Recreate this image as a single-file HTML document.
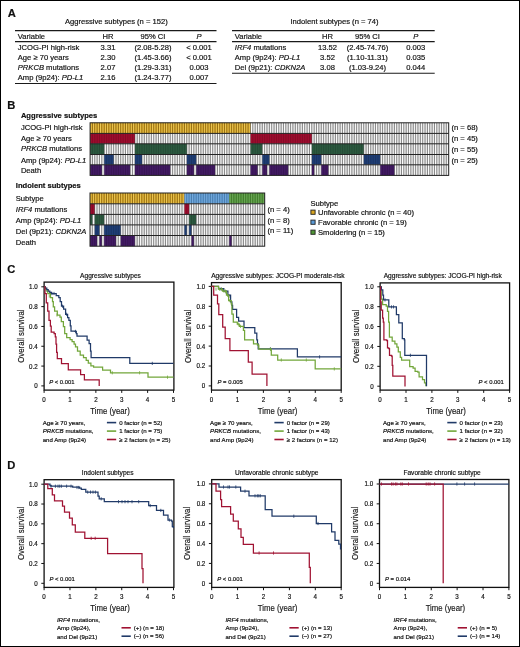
<!DOCTYPE html>
<html><head><meta charset="utf-8"><title>Figure</title>
<style>
html,body{margin:0;padding:0;background:#fff;}
.fig{will-change:transform;position:relative;width:520px;height:647px;overflow:hidden;background:#fff;}
svg text{font-family:"Liberation Sans", sans-serif;stroke:#111;stroke-width:0.18px;}
</style></head>
<body><div class="fig">
<svg width="520" height="647" viewBox="0 0 520 647" fill="#111" font-family='"Liberation Sans", sans-serif'>
<rect x="0.5" y="0.5" width="519" height="646" fill="#fff" stroke="#000" stroke-width="1"/>
<text x="7.8" y="17.2" font-size="11.2" font-weight="bold">A</text>
<text x="116.3" y="24.4" font-size="7.6" text-anchor="middle">Aggressive subtypes (n = 152)</text>
<line x1="15" y1="30.6" x2="216.5" y2="30.6" stroke="#1a1a1a" stroke-width="1.1"/>
<line x1="15" y1="41.6" x2="216.5" y2="41.6" stroke="#1a1a1a" stroke-width="1.1"/>
<line x1="15" y1="83.5" x2="216.5" y2="83.5" stroke="#1a1a1a" stroke-width="1.1"/>
<text x="17.8" y="39.2" font-size="7.6">Variable</text>
<text x="108" y="39.2" font-size="7.6" text-anchor="middle">HR</text>
<text x="153" y="39.2" font-size="7.6" text-anchor="middle">95% CI</text>
<text x="199" y="39.2" font-size="7.6" text-anchor="middle" font-style="italic">P</text>
<text x="17.8" y="50.3" font-size="7.6">JCOG-PI high-risk</text>
<text x="108" y="50.3" font-size="7.6" text-anchor="middle">3.31</text>
<text x="153" y="50.3" font-size="7.6" text-anchor="middle">(2.08-5.28)</text>
<text x="199" y="50.3" font-size="7.6" text-anchor="middle">&lt; 0.001</text>
<text x="17.8" y="60.1" font-size="7.6">Age ≥ 70 years</text>
<text x="108" y="60.1" font-size="7.6" text-anchor="middle">2.30</text>
<text x="153" y="60.1" font-size="7.6" text-anchor="middle">(1.45-3.66)</text>
<text x="199" y="60.1" font-size="7.6" text-anchor="middle">&lt; 0.001</text>
<text x="17.8" y="69.9" font-size="7.6"><tspan font-style="italic">PRKCB</tspan> mutations</text>
<text x="108" y="69.9" font-size="7.6" text-anchor="middle">2.07</text>
<text x="153" y="69.9" font-size="7.6" text-anchor="middle">(1.29-3.31)</text>
<text x="199" y="69.9" font-size="7.6" text-anchor="middle">0.003</text>
<text x="17.8" y="79.8" font-size="7.6">Amp (9p24): <tspan font-style="italic">PD-L1</tspan></text>
<text x="108" y="79.8" font-size="7.6" text-anchor="middle">2.16</text>
<text x="153" y="79.8" font-size="7.6" text-anchor="middle">(1.24-3.77)</text>
<text x="199" y="79.8" font-size="7.6" text-anchor="middle">0.007</text>
<text x="334.5" y="24.4" font-size="7.6" text-anchor="middle">Indolent subtypes (n = 74)</text>
<line x1="232" y1="30.6" x2="434.7" y2="30.6" stroke="#1a1a1a" stroke-width="1.1"/>
<line x1="232" y1="41.6" x2="434.7" y2="41.6" stroke="#1a1a1a" stroke-width="1.1"/>
<line x1="232" y1="73.2" x2="434.7" y2="73.2" stroke="#1a1a1a" stroke-width="1.1"/>
<text x="234.8" y="39.2" font-size="7.6">Variable</text>
<text x="327.5" y="39.2" font-size="7.6" text-anchor="middle">HR</text>
<text x="367.5" y="39.2" font-size="7.6" text-anchor="middle">95% CI</text>
<text x="415.7" y="39.2" font-size="7.6" text-anchor="middle" font-style="italic">P</text>
<text x="234.8" y="50.3" font-size="7.6"><tspan font-style="italic">IRF4</tspan> mutations</text>
<text x="327.5" y="50.3" font-size="7.6" text-anchor="middle">13.52</text>
<text x="367.5" y="50.3" font-size="7.6" text-anchor="middle">(2.45-74.76)</text>
<text x="415.7" y="50.3" font-size="7.6" text-anchor="middle">0.003</text>
<text x="234.8" y="60.1" font-size="7.6">Amp (9p24): <tspan font-style="italic">PD-L1</tspan></text>
<text x="327.5" y="60.1" font-size="7.6" text-anchor="middle">3.52</text>
<text x="367.5" y="60.1" font-size="7.6" text-anchor="middle">(1.10-11.31)</text>
<text x="415.7" y="60.1" font-size="7.6" text-anchor="middle">0.035</text>
<text x="234.8" y="69.9" font-size="7.6">Del (9p21): <tspan font-style="italic">CDKN2A</tspan></text>
<text x="327.5" y="69.9" font-size="7.6" text-anchor="middle">3.08</text>
<text x="367.5" y="69.9" font-size="7.6" text-anchor="middle">(1.03-9.24)</text>
<text x="415.7" y="69.9" font-size="7.6" text-anchor="middle">0.044</text>
<text x="7.2" y="108.7" font-size="11.2" font-weight="bold">B</text>
<text x="20.9" y="117.6" font-size="7.6" font-weight="bold">Aggressive subtypes</text>
<text x="15.8" y="188.3" font-size="7.6" font-weight="bold">Indolent subtypes</text>
<rect x="90.10" y="122.80" width="358.60" height="10.60" fill="#d2d2d2"/>
<rect x="90.10" y="122.80" width="160.43" height="10.60" fill="#d8a51f"/>
<rect x="90.10" y="133.40" width="358.60" height="10.40" fill="#d2d2d2"/>
<rect x="90.10" y="133.40" width="44.83" height="10.40" fill="#9e0c2e"/>
<rect x="250.53" y="133.40" width="61.34" height="10.40" fill="#9e0c2e"/>
<rect x="90.10" y="143.80" width="358.60" height="10.70" fill="#d2d2d2"/>
<rect x="90.10" y="143.80" width="14.16" height="10.70" fill="#2c5a40"/>
<rect x="134.93" y="143.80" width="51.90" height="10.70" fill="#2c5a40"/>
<rect x="250.53" y="143.80" width="11.80" height="10.70" fill="#2c5a40"/>
<rect x="311.87" y="143.80" width="51.90" height="10.70" fill="#2c5a40"/>
<rect x="90.10" y="154.50" width="358.60" height="10.30" fill="#d2d2d2"/>
<rect x="104.26" y="154.50" width="9.44" height="10.30" fill="#1f3e76"/>
<rect x="134.93" y="154.50" width="7.08" height="10.30" fill="#1f3e76"/>
<rect x="186.83" y="154.50" width="9.44" height="10.30" fill="#1f3e76"/>
<rect x="262.32" y="154.50" width="7.08" height="10.30" fill="#1f3e76"/>
<rect x="311.87" y="154.50" width="9.44" height="10.30" fill="#1f3e76"/>
<rect x="363.77" y="154.50" width="16.51" height="10.30" fill="#1f3e76"/>
<rect x="90.10" y="164.80" width="358.60" height="10.60" fill="#d2d2d2"/>
<rect x="90.10" y="164.80" width="11.80" height="10.60" fill="#421a64"/>
<rect x="104.26" y="164.80" width="25.95" height="10.60" fill="#421a64"/>
<rect x="134.93" y="164.80" width="35.39" height="10.60" fill="#421a64"/>
<rect x="186.83" y="164.80" width="7.08" height="10.60" fill="#421a64"/>
<rect x="196.26" y="164.80" width="18.87" height="10.60" fill="#421a64"/>
<rect x="250.53" y="164.80" width="7.08" height="10.60" fill="#421a64"/>
<rect x="262.32" y="164.80" width="4.72" height="10.60" fill="#421a64"/>
<rect x="269.40" y="164.80" width="18.87" height="10.60" fill="#421a64"/>
<rect x="311.87" y="164.80" width="2.36" height="10.60" fill="#421a64"/>
<rect x="321.30" y="164.80" width="7.08" height="10.60" fill="#421a64"/>
<rect x="380.28" y="164.80" width="14.16" height="10.60" fill="#421a64"/>
<path d="M251.48 122.8v10.6M253.84 122.8v10.6M256.19 122.8v10.6M258.55 122.8v10.6M260.91 122.8v10.6M263.27 122.8v10.6M265.63 122.8v10.6M267.99 122.8v10.6M270.35 122.8v10.6M272.71 122.8v10.6M275.07 122.8v10.6M277.43 122.8v10.6M279.79 122.8v10.6M282.15 122.8v10.6M284.51 122.8v10.6M286.86 122.8v10.6M289.22 122.8v10.6M291.58 122.8v10.6M293.94 122.8v10.6M296.30 122.8v10.6M298.66 122.8v10.6M301.02 122.8v10.6M303.38 122.8v10.6M305.74 122.8v10.6M308.10 122.8v10.6M310.46 122.8v10.6M312.82 122.8v10.6M315.18 122.8v10.6M317.53 122.8v10.6M319.89 122.8v10.6M322.25 122.8v10.6M324.61 122.8v10.6M326.97 122.8v10.6M329.33 122.8v10.6M331.69 122.8v10.6M334.05 122.8v10.6M336.41 122.8v10.6M338.77 122.8v10.6M341.13 122.8v10.6M343.49 122.8v10.6M345.84 122.8v10.6M348.20 122.8v10.6M350.56 122.8v10.6M352.92 122.8v10.6M355.28 122.8v10.6M357.64 122.8v10.6M360.00 122.8v10.6M362.36 122.8v10.6M364.72 122.8v10.6M367.08 122.8v10.6M369.44 122.8v10.6M371.80 122.8v10.6M374.16 122.8v10.6M376.51 122.8v10.6M378.87 122.8v10.6M381.23 122.8v10.6M383.59 122.8v10.6M385.95 122.8v10.6M388.31 122.8v10.6M390.67 122.8v10.6M393.03 122.8v10.6M395.39 122.8v10.6M397.75 122.8v10.6M400.11 122.8v10.6M402.47 122.8v10.6M404.82 122.8v10.6M407.18 122.8v10.6M409.54 122.8v10.6M411.90 122.8v10.6M414.26 122.8v10.6M416.62 122.8v10.6M418.98 122.8v10.6M421.34 122.8v10.6M423.70 122.8v10.6M426.06 122.8v10.6M428.42 122.8v10.6M430.78 122.8v10.6M433.14 122.8v10.6M435.49 122.8v10.6M437.85 122.8v10.6M440.21 122.8v10.6M442.57 122.8v10.6M444.93 122.8v10.6M447.29 122.8v10.6M135.88 133.4v10.4M138.23 133.4v10.4M140.59 133.4v10.4M142.95 133.4v10.4M145.31 133.4v10.4M147.67 133.4v10.4M150.03 133.4v10.4M152.39 133.4v10.4M154.75 133.4v10.4M157.11 133.4v10.4M159.47 133.4v10.4M161.83 133.4v10.4M164.19 133.4v10.4M166.54 133.4v10.4M168.90 133.4v10.4M171.26 133.4v10.4M173.62 133.4v10.4M175.98 133.4v10.4M178.34 133.4v10.4M180.70 133.4v10.4M183.06 133.4v10.4M185.42 133.4v10.4M187.78 133.4v10.4M190.14 133.4v10.4M192.50 133.4v10.4M194.86 133.4v10.4M197.21 133.4v10.4M199.57 133.4v10.4M201.93 133.4v10.4M204.29 133.4v10.4M206.65 133.4v10.4M209.01 133.4v10.4M211.37 133.4v10.4M213.73 133.4v10.4M216.09 133.4v10.4M218.45 133.4v10.4M220.81 133.4v10.4M223.17 133.4v10.4M225.53 133.4v10.4M227.88 133.4v10.4M230.24 133.4v10.4M232.60 133.4v10.4M234.96 133.4v10.4M237.32 133.4v10.4M239.68 133.4v10.4M242.04 133.4v10.4M244.40 133.4v10.4M246.76 133.4v10.4M249.12 133.4v10.4M312.82 133.4v10.4M315.18 133.4v10.4M317.53 133.4v10.4M319.89 133.4v10.4M322.25 133.4v10.4M324.61 133.4v10.4M326.97 133.4v10.4M329.33 133.4v10.4M331.69 133.4v10.4M334.05 133.4v10.4M336.41 133.4v10.4M338.77 133.4v10.4M341.13 133.4v10.4M343.49 133.4v10.4M345.84 133.4v10.4M348.20 133.4v10.4M350.56 133.4v10.4M352.92 133.4v10.4M355.28 133.4v10.4M357.64 133.4v10.4M360.00 133.4v10.4M362.36 133.4v10.4M364.72 133.4v10.4M367.08 133.4v10.4M369.44 133.4v10.4M371.80 133.4v10.4M374.16 133.4v10.4M376.51 133.4v10.4M378.87 133.4v10.4M381.23 133.4v10.4M383.59 133.4v10.4M385.95 133.4v10.4M388.31 133.4v10.4M390.67 133.4v10.4M393.03 133.4v10.4M395.39 133.4v10.4M397.75 133.4v10.4M400.11 133.4v10.4M402.47 133.4v10.4M404.82 133.4v10.4M407.18 133.4v10.4M409.54 133.4v10.4M411.90 133.4v10.4M414.26 133.4v10.4M416.62 133.4v10.4M418.98 133.4v10.4M421.34 133.4v10.4M423.70 133.4v10.4M426.06 133.4v10.4M428.42 133.4v10.4M430.78 133.4v10.4M433.14 133.4v10.4M435.49 133.4v10.4M437.85 133.4v10.4M440.21 133.4v10.4M442.57 133.4v10.4M444.93 133.4v10.4M447.29 133.4v10.4M105.21 143.8v10.7M107.56 143.8v10.7M109.92 143.8v10.7M112.28 143.8v10.7M114.64 143.8v10.7M117.00 143.8v10.7M119.36 143.8v10.7M121.72 143.8v10.7M124.08 143.8v10.7M126.44 143.8v10.7M128.80 143.8v10.7M131.16 143.8v10.7M133.52 143.8v10.7M187.78 143.8v10.7M190.14 143.8v10.7M192.50 143.8v10.7M194.86 143.8v10.7M197.21 143.8v10.7M199.57 143.8v10.7M201.93 143.8v10.7M204.29 143.8v10.7M206.65 143.8v10.7M209.01 143.8v10.7M211.37 143.8v10.7M213.73 143.8v10.7M216.09 143.8v10.7M218.45 143.8v10.7M220.81 143.8v10.7M223.17 143.8v10.7M225.53 143.8v10.7M227.88 143.8v10.7M230.24 143.8v10.7M232.60 143.8v10.7M234.96 143.8v10.7M237.32 143.8v10.7M239.68 143.8v10.7M242.04 143.8v10.7M244.40 143.8v10.7M246.76 143.8v10.7M249.12 143.8v10.7M263.27 143.8v10.7M265.63 143.8v10.7M267.99 143.8v10.7M270.35 143.8v10.7M272.71 143.8v10.7M275.07 143.8v10.7M277.43 143.8v10.7M279.79 143.8v10.7M282.15 143.8v10.7M284.51 143.8v10.7M286.86 143.8v10.7M289.22 143.8v10.7M291.58 143.8v10.7M293.94 143.8v10.7M296.30 143.8v10.7M298.66 143.8v10.7M301.02 143.8v10.7M303.38 143.8v10.7M305.74 143.8v10.7M308.10 143.8v10.7M310.46 143.8v10.7M364.72 143.8v10.7M367.08 143.8v10.7M369.44 143.8v10.7M371.80 143.8v10.7M374.16 143.8v10.7M376.51 143.8v10.7M378.87 143.8v10.7M381.23 143.8v10.7M383.59 143.8v10.7M385.95 143.8v10.7M388.31 143.8v10.7M390.67 143.8v10.7M393.03 143.8v10.7M395.39 143.8v10.7M397.75 143.8v10.7M400.11 143.8v10.7M402.47 143.8v10.7M404.82 143.8v10.7M407.18 143.8v10.7M409.54 143.8v10.7M411.90 143.8v10.7M414.26 143.8v10.7M416.62 143.8v10.7M418.98 143.8v10.7M421.34 143.8v10.7M423.70 143.8v10.7M426.06 143.8v10.7M428.42 143.8v10.7M430.78 143.8v10.7M433.14 143.8v10.7M435.49 143.8v10.7M437.85 143.8v10.7M440.21 143.8v10.7M442.57 143.8v10.7M444.93 143.8v10.7M447.29 143.8v10.7M91.05 154.5v10.3M93.41 154.5v10.3M95.77 154.5v10.3M98.13 154.5v10.3M100.49 154.5v10.3M102.85 154.5v10.3M114.64 154.5v10.3M117.00 154.5v10.3M119.36 154.5v10.3M121.72 154.5v10.3M124.08 154.5v10.3M126.44 154.5v10.3M128.80 154.5v10.3M131.16 154.5v10.3M133.52 154.5v10.3M142.95 154.5v10.3M145.31 154.5v10.3M147.67 154.5v10.3M150.03 154.5v10.3M152.39 154.5v10.3M154.75 154.5v10.3M157.11 154.5v10.3M159.47 154.5v10.3M161.83 154.5v10.3M164.19 154.5v10.3M166.54 154.5v10.3M168.90 154.5v10.3M171.26 154.5v10.3M173.62 154.5v10.3M175.98 154.5v10.3M178.34 154.5v10.3M180.70 154.5v10.3M183.06 154.5v10.3M185.42 154.5v10.3M197.21 154.5v10.3M199.57 154.5v10.3M201.93 154.5v10.3M204.29 154.5v10.3M206.65 154.5v10.3M209.01 154.5v10.3M211.37 154.5v10.3M213.73 154.5v10.3M216.09 154.5v10.3M218.45 154.5v10.3M220.81 154.5v10.3M223.17 154.5v10.3M225.53 154.5v10.3M227.88 154.5v10.3M230.24 154.5v10.3M232.60 154.5v10.3M234.96 154.5v10.3M237.32 154.5v10.3M239.68 154.5v10.3M242.04 154.5v10.3M244.40 154.5v10.3M246.76 154.5v10.3M249.12 154.5v10.3M251.48 154.5v10.3M253.84 154.5v10.3M256.19 154.5v10.3M258.55 154.5v10.3M260.91 154.5v10.3M270.35 154.5v10.3M272.71 154.5v10.3M275.07 154.5v10.3M277.43 154.5v10.3M279.79 154.5v10.3M282.15 154.5v10.3M284.51 154.5v10.3M286.86 154.5v10.3M289.22 154.5v10.3M291.58 154.5v10.3M293.94 154.5v10.3M296.30 154.5v10.3M298.66 154.5v10.3M301.02 154.5v10.3M303.38 154.5v10.3M305.74 154.5v10.3M308.10 154.5v10.3M310.46 154.5v10.3M322.25 154.5v10.3M324.61 154.5v10.3M326.97 154.5v10.3M329.33 154.5v10.3M331.69 154.5v10.3M334.05 154.5v10.3M336.41 154.5v10.3M338.77 154.5v10.3M341.13 154.5v10.3M343.49 154.5v10.3M345.84 154.5v10.3M348.20 154.5v10.3M350.56 154.5v10.3M352.92 154.5v10.3M355.28 154.5v10.3M357.64 154.5v10.3M360.00 154.5v10.3M362.36 154.5v10.3M381.23 154.5v10.3M383.59 154.5v10.3M385.95 154.5v10.3M388.31 154.5v10.3M390.67 154.5v10.3M393.03 154.5v10.3M395.39 154.5v10.3M397.75 154.5v10.3M400.11 154.5v10.3M402.47 154.5v10.3M404.82 154.5v10.3M407.18 154.5v10.3M409.54 154.5v10.3M411.90 154.5v10.3M414.26 154.5v10.3M416.62 154.5v10.3M418.98 154.5v10.3M421.34 154.5v10.3M423.70 154.5v10.3M426.06 154.5v10.3M428.42 154.5v10.3M430.78 154.5v10.3M433.14 154.5v10.3M435.49 154.5v10.3M437.85 154.5v10.3M440.21 154.5v10.3M442.57 154.5v10.3M444.93 154.5v10.3M447.29 154.5v10.3M102.85 164.8v10.6M131.16 164.8v10.6M133.52 164.8v10.6M171.26 164.8v10.6M173.62 164.8v10.6M175.98 164.8v10.6M178.34 164.8v10.6M180.70 164.8v10.6M183.06 164.8v10.6M185.42 164.8v10.6M194.86 164.8v10.6M216.09 164.8v10.6M218.45 164.8v10.6M220.81 164.8v10.6M223.17 164.8v10.6M225.53 164.8v10.6M227.88 164.8v10.6M230.24 164.8v10.6M232.60 164.8v10.6M234.96 164.8v10.6M237.32 164.8v10.6M239.68 164.8v10.6M242.04 164.8v10.6M244.40 164.8v10.6M246.76 164.8v10.6M249.12 164.8v10.6M258.55 164.8v10.6M260.91 164.8v10.6M267.99 164.8v10.6M289.22 164.8v10.6M291.58 164.8v10.6M293.94 164.8v10.6M296.30 164.8v10.6M298.66 164.8v10.6M301.02 164.8v10.6M303.38 164.8v10.6M305.74 164.8v10.6M308.10 164.8v10.6M310.46 164.8v10.6M315.18 164.8v10.6M317.53 164.8v10.6M319.89 164.8v10.6M329.33 164.8v10.6M331.69 164.8v10.6M334.05 164.8v10.6M336.41 164.8v10.6M338.77 164.8v10.6M341.13 164.8v10.6M343.49 164.8v10.6M345.84 164.8v10.6M348.20 164.8v10.6M350.56 164.8v10.6M352.92 164.8v10.6M355.28 164.8v10.6M357.64 164.8v10.6M360.00 164.8v10.6M362.36 164.8v10.6M364.72 164.8v10.6M367.08 164.8v10.6M369.44 164.8v10.6M371.80 164.8v10.6M374.16 164.8v10.6M376.51 164.8v10.6M378.87 164.8v10.6M395.39 164.8v10.6M397.75 164.8v10.6M400.11 164.8v10.6M402.47 164.8v10.6M404.82 164.8v10.6M407.18 164.8v10.6M409.54 164.8v10.6M411.90 164.8v10.6M414.26 164.8v10.6M416.62 164.8v10.6M418.98 164.8v10.6M421.34 164.8v10.6M423.70 164.8v10.6M426.06 164.8v10.6M428.42 164.8v10.6M430.78 164.8v10.6M433.14 164.8v10.6M435.49 164.8v10.6M437.85 164.8v10.6M440.21 164.8v10.6M442.57 164.8v10.6M444.93 164.8v10.6M447.29 164.8v10.6" stroke="#fff" stroke-opacity="1" stroke-width="1.0"/>
<path d="M250.53 122.8v10.6M252.89 122.8v10.6M255.24 122.8v10.6M257.60 122.8v10.6M259.96 122.8v10.6M262.32 122.8v10.6M264.68 122.8v10.6M267.04 122.8v10.6M269.40 122.8v10.6M271.76 122.8v10.6M274.12 122.8v10.6M276.48 122.8v10.6M278.84 122.8v10.6M281.20 122.8v10.6M283.56 122.8v10.6M285.91 122.8v10.6M288.27 122.8v10.6M290.63 122.8v10.6M292.99 122.8v10.6M295.35 122.8v10.6M297.71 122.8v10.6M300.07 122.8v10.6M302.43 122.8v10.6M304.79 122.8v10.6M307.15 122.8v10.6M309.51 122.8v10.6M311.87 122.8v10.6M314.23 122.8v10.6M316.58 122.8v10.6M318.94 122.8v10.6M321.30 122.8v10.6M323.66 122.8v10.6M326.02 122.8v10.6M328.38 122.8v10.6M330.74 122.8v10.6M333.10 122.8v10.6M335.46 122.8v10.6M337.82 122.8v10.6M340.18 122.8v10.6M342.54 122.8v10.6M344.89 122.8v10.6M347.25 122.8v10.6M349.61 122.8v10.6M351.97 122.8v10.6M354.33 122.8v10.6M356.69 122.8v10.6M359.05 122.8v10.6M361.41 122.8v10.6M363.77 122.8v10.6M366.13 122.8v10.6M368.49 122.8v10.6M370.85 122.8v10.6M373.21 122.8v10.6M375.56 122.8v10.6M377.92 122.8v10.6M380.28 122.8v10.6M382.64 122.8v10.6M385.00 122.8v10.6M387.36 122.8v10.6M389.72 122.8v10.6M392.08 122.8v10.6M394.44 122.8v10.6M396.80 122.8v10.6M399.16 122.8v10.6M401.52 122.8v10.6M403.88 122.8v10.6M406.23 122.8v10.6M408.59 122.8v10.6M410.95 122.8v10.6M413.31 122.8v10.6M415.67 122.8v10.6M418.03 122.8v10.6M420.39 122.8v10.6M422.75 122.8v10.6M425.11 122.8v10.6M427.47 122.8v10.6M429.83 122.8v10.6M432.19 122.8v10.6M434.54 122.8v10.6M436.90 122.8v10.6M439.26 122.8v10.6M441.62 122.8v10.6M443.98 122.8v10.6M446.34 122.8v10.6M134.93 133.4v10.4M137.28 133.4v10.4M139.64 133.4v10.4M142.00 133.4v10.4M144.36 133.4v10.4M146.72 133.4v10.4M149.08 133.4v10.4M151.44 133.4v10.4M153.80 133.4v10.4M156.16 133.4v10.4M158.52 133.4v10.4M160.88 133.4v10.4M163.24 133.4v10.4M165.59 133.4v10.4M167.95 133.4v10.4M170.31 133.4v10.4M172.67 133.4v10.4M175.03 133.4v10.4M177.39 133.4v10.4M179.75 133.4v10.4M182.11 133.4v10.4M184.47 133.4v10.4M186.83 133.4v10.4M189.19 133.4v10.4M191.55 133.4v10.4M193.91 133.4v10.4M196.26 133.4v10.4M198.62 133.4v10.4M200.98 133.4v10.4M203.34 133.4v10.4M205.70 133.4v10.4M208.06 133.4v10.4M210.42 133.4v10.4M212.78 133.4v10.4M215.14 133.4v10.4M217.50 133.4v10.4M219.86 133.4v10.4M222.22 133.4v10.4M224.58 133.4v10.4M226.93 133.4v10.4M229.29 133.4v10.4M231.65 133.4v10.4M234.01 133.4v10.4M236.37 133.4v10.4M238.73 133.4v10.4M241.09 133.4v10.4M243.45 133.4v10.4M245.81 133.4v10.4M248.17 133.4v10.4M311.87 133.4v10.4M314.23 133.4v10.4M316.58 133.4v10.4M318.94 133.4v10.4M321.30 133.4v10.4M323.66 133.4v10.4M326.02 133.4v10.4M328.38 133.4v10.4M330.74 133.4v10.4M333.10 133.4v10.4M335.46 133.4v10.4M337.82 133.4v10.4M340.18 133.4v10.4M342.54 133.4v10.4M344.89 133.4v10.4M347.25 133.4v10.4M349.61 133.4v10.4M351.97 133.4v10.4M354.33 133.4v10.4M356.69 133.4v10.4M359.05 133.4v10.4M361.41 133.4v10.4M363.77 133.4v10.4M366.13 133.4v10.4M368.49 133.4v10.4M370.85 133.4v10.4M373.21 133.4v10.4M375.56 133.4v10.4M377.92 133.4v10.4M380.28 133.4v10.4M382.64 133.4v10.4M385.00 133.4v10.4M387.36 133.4v10.4M389.72 133.4v10.4M392.08 133.4v10.4M394.44 133.4v10.4M396.80 133.4v10.4M399.16 133.4v10.4M401.52 133.4v10.4M403.88 133.4v10.4M406.23 133.4v10.4M408.59 133.4v10.4M410.95 133.4v10.4M413.31 133.4v10.4M415.67 133.4v10.4M418.03 133.4v10.4M420.39 133.4v10.4M422.75 133.4v10.4M425.11 133.4v10.4M427.47 133.4v10.4M429.83 133.4v10.4M432.19 133.4v10.4M434.54 133.4v10.4M436.90 133.4v10.4M439.26 133.4v10.4M441.62 133.4v10.4M443.98 133.4v10.4M446.34 133.4v10.4M104.26 143.8v10.7M106.61 143.8v10.7M108.97 143.8v10.7M111.33 143.8v10.7M113.69 143.8v10.7M116.05 143.8v10.7M118.41 143.8v10.7M120.77 143.8v10.7M123.13 143.8v10.7M125.49 143.8v10.7M127.85 143.8v10.7M130.21 143.8v10.7M132.57 143.8v10.7M186.83 143.8v10.7M189.19 143.8v10.7M191.55 143.8v10.7M193.91 143.8v10.7M196.26 143.8v10.7M198.62 143.8v10.7M200.98 143.8v10.7M203.34 143.8v10.7M205.70 143.8v10.7M208.06 143.8v10.7M210.42 143.8v10.7M212.78 143.8v10.7M215.14 143.8v10.7M217.50 143.8v10.7M219.86 143.8v10.7M222.22 143.8v10.7M224.58 143.8v10.7M226.93 143.8v10.7M229.29 143.8v10.7M231.65 143.8v10.7M234.01 143.8v10.7M236.37 143.8v10.7M238.73 143.8v10.7M241.09 143.8v10.7M243.45 143.8v10.7M245.81 143.8v10.7M248.17 143.8v10.7M262.32 143.8v10.7M264.68 143.8v10.7M267.04 143.8v10.7M269.40 143.8v10.7M271.76 143.8v10.7M274.12 143.8v10.7M276.48 143.8v10.7M278.84 143.8v10.7M281.20 143.8v10.7M283.56 143.8v10.7M285.91 143.8v10.7M288.27 143.8v10.7M290.63 143.8v10.7M292.99 143.8v10.7M295.35 143.8v10.7M297.71 143.8v10.7M300.07 143.8v10.7M302.43 143.8v10.7M304.79 143.8v10.7M307.15 143.8v10.7M309.51 143.8v10.7M363.77 143.8v10.7M366.13 143.8v10.7M368.49 143.8v10.7M370.85 143.8v10.7M373.21 143.8v10.7M375.56 143.8v10.7M377.92 143.8v10.7M380.28 143.8v10.7M382.64 143.8v10.7M385.00 143.8v10.7M387.36 143.8v10.7M389.72 143.8v10.7M392.08 143.8v10.7M394.44 143.8v10.7M396.80 143.8v10.7M399.16 143.8v10.7M401.52 143.8v10.7M403.88 143.8v10.7M406.23 143.8v10.7M408.59 143.8v10.7M410.95 143.8v10.7M413.31 143.8v10.7M415.67 143.8v10.7M418.03 143.8v10.7M420.39 143.8v10.7M422.75 143.8v10.7M425.11 143.8v10.7M427.47 143.8v10.7M429.83 143.8v10.7M432.19 143.8v10.7M434.54 143.8v10.7M436.90 143.8v10.7M439.26 143.8v10.7M441.62 143.8v10.7M443.98 143.8v10.7M446.34 143.8v10.7M92.46 154.5v10.3M94.82 154.5v10.3M97.18 154.5v10.3M99.54 154.5v10.3M101.90 154.5v10.3M113.69 154.5v10.3M116.05 154.5v10.3M118.41 154.5v10.3M120.77 154.5v10.3M123.13 154.5v10.3M125.49 154.5v10.3M127.85 154.5v10.3M130.21 154.5v10.3M132.57 154.5v10.3M142.00 154.5v10.3M144.36 154.5v10.3M146.72 154.5v10.3M149.08 154.5v10.3M151.44 154.5v10.3M153.80 154.5v10.3M156.16 154.5v10.3M158.52 154.5v10.3M160.88 154.5v10.3M163.24 154.5v10.3M165.59 154.5v10.3M167.95 154.5v10.3M170.31 154.5v10.3M172.67 154.5v10.3M175.03 154.5v10.3M177.39 154.5v10.3M179.75 154.5v10.3M182.11 154.5v10.3M184.47 154.5v10.3M196.26 154.5v10.3M198.62 154.5v10.3M200.98 154.5v10.3M203.34 154.5v10.3M205.70 154.5v10.3M208.06 154.5v10.3M210.42 154.5v10.3M212.78 154.5v10.3M215.14 154.5v10.3M217.50 154.5v10.3M219.86 154.5v10.3M222.22 154.5v10.3M224.58 154.5v10.3M226.93 154.5v10.3M229.29 154.5v10.3M231.65 154.5v10.3M234.01 154.5v10.3M236.37 154.5v10.3M238.73 154.5v10.3M241.09 154.5v10.3M243.45 154.5v10.3M245.81 154.5v10.3M248.17 154.5v10.3M250.53 154.5v10.3M252.89 154.5v10.3M255.24 154.5v10.3M257.60 154.5v10.3M259.96 154.5v10.3M269.40 154.5v10.3M271.76 154.5v10.3M274.12 154.5v10.3M276.48 154.5v10.3M278.84 154.5v10.3M281.20 154.5v10.3M283.56 154.5v10.3M285.91 154.5v10.3M288.27 154.5v10.3M290.63 154.5v10.3M292.99 154.5v10.3M295.35 154.5v10.3M297.71 154.5v10.3M300.07 154.5v10.3M302.43 154.5v10.3M304.79 154.5v10.3M307.15 154.5v10.3M309.51 154.5v10.3M321.30 154.5v10.3M323.66 154.5v10.3M326.02 154.5v10.3M328.38 154.5v10.3M330.74 154.5v10.3M333.10 154.5v10.3M335.46 154.5v10.3M337.82 154.5v10.3M340.18 154.5v10.3M342.54 154.5v10.3M344.89 154.5v10.3M347.25 154.5v10.3M349.61 154.5v10.3M351.97 154.5v10.3M354.33 154.5v10.3M356.69 154.5v10.3M359.05 154.5v10.3M361.41 154.5v10.3M380.28 154.5v10.3M382.64 154.5v10.3M385.00 154.5v10.3M387.36 154.5v10.3M389.72 154.5v10.3M392.08 154.5v10.3M394.44 154.5v10.3M396.80 154.5v10.3M399.16 154.5v10.3M401.52 154.5v10.3M403.88 154.5v10.3M406.23 154.5v10.3M408.59 154.5v10.3M410.95 154.5v10.3M413.31 154.5v10.3M415.67 154.5v10.3M418.03 154.5v10.3M420.39 154.5v10.3M422.75 154.5v10.3M425.11 154.5v10.3M427.47 154.5v10.3M429.83 154.5v10.3M432.19 154.5v10.3M434.54 154.5v10.3M436.90 154.5v10.3M439.26 154.5v10.3M441.62 154.5v10.3M443.98 154.5v10.3M446.34 154.5v10.3M101.90 164.8v10.6M130.21 164.8v10.6M132.57 164.8v10.6M170.31 164.8v10.6M172.67 164.8v10.6M175.03 164.8v10.6M177.39 164.8v10.6M179.75 164.8v10.6M182.11 164.8v10.6M184.47 164.8v10.6M193.91 164.8v10.6M215.14 164.8v10.6M217.50 164.8v10.6M219.86 164.8v10.6M222.22 164.8v10.6M224.58 164.8v10.6M226.93 164.8v10.6M229.29 164.8v10.6M231.65 164.8v10.6M234.01 164.8v10.6M236.37 164.8v10.6M238.73 164.8v10.6M241.09 164.8v10.6M243.45 164.8v10.6M245.81 164.8v10.6M248.17 164.8v10.6M257.60 164.8v10.6M259.96 164.8v10.6M267.04 164.8v10.6M288.27 164.8v10.6M290.63 164.8v10.6M292.99 164.8v10.6M295.35 164.8v10.6M297.71 164.8v10.6M300.07 164.8v10.6M302.43 164.8v10.6M304.79 164.8v10.6M307.15 164.8v10.6M309.51 164.8v10.6M314.23 164.8v10.6M316.58 164.8v10.6M318.94 164.8v10.6M328.38 164.8v10.6M330.74 164.8v10.6M333.10 164.8v10.6M335.46 164.8v10.6M337.82 164.8v10.6M340.18 164.8v10.6M342.54 164.8v10.6M344.89 164.8v10.6M347.25 164.8v10.6M349.61 164.8v10.6M351.97 164.8v10.6M354.33 164.8v10.6M356.69 164.8v10.6M359.05 164.8v10.6M361.41 164.8v10.6M363.77 164.8v10.6M366.13 164.8v10.6M368.49 164.8v10.6M370.85 164.8v10.6M373.21 164.8v10.6M375.56 164.8v10.6M377.92 164.8v10.6M394.44 164.8v10.6M396.80 164.8v10.6M399.16 164.8v10.6M401.52 164.8v10.6M403.88 164.8v10.6M406.23 164.8v10.6M408.59 164.8v10.6M410.95 164.8v10.6M413.31 164.8v10.6M415.67 164.8v10.6M418.03 164.8v10.6M420.39 164.8v10.6M422.75 164.8v10.6M425.11 164.8v10.6M427.47 164.8v10.6M429.83 164.8v10.6M432.19 164.8v10.6M434.54 164.8v10.6M436.90 164.8v10.6M439.26 164.8v10.6M441.62 164.8v10.6M443.98 164.8v10.6M446.34 164.8v10.6" stroke="#222" stroke-opacity="0.85" stroke-width="0.5"/>
<path d="M91.05 122.8v10.6M93.41 122.8v10.6M95.77 122.8v10.6M98.13 122.8v10.6M100.49 122.8v10.6M102.85 122.8v10.6M105.21 122.8v10.6M107.56 122.8v10.6M109.92 122.8v10.6M112.28 122.8v10.6M114.64 122.8v10.6M117.00 122.8v10.6M119.36 122.8v10.6M121.72 122.8v10.6M124.08 122.8v10.6M126.44 122.8v10.6M128.80 122.8v10.6M131.16 122.8v10.6M133.52 122.8v10.6M135.88 122.8v10.6M138.23 122.8v10.6M140.59 122.8v10.6M142.95 122.8v10.6M145.31 122.8v10.6M147.67 122.8v10.6M150.03 122.8v10.6M152.39 122.8v10.6M154.75 122.8v10.6M157.11 122.8v10.6M159.47 122.8v10.6M161.83 122.8v10.6M164.19 122.8v10.6M166.54 122.8v10.6M168.90 122.8v10.6M171.26 122.8v10.6M173.62 122.8v10.6M175.98 122.8v10.6M178.34 122.8v10.6M180.70 122.8v10.6M183.06 122.8v10.6M185.42 122.8v10.6M187.78 122.8v10.6M190.14 122.8v10.6M192.50 122.8v10.6M194.86 122.8v10.6M197.21 122.8v10.6M199.57 122.8v10.6M201.93 122.8v10.6M204.29 122.8v10.6M206.65 122.8v10.6M209.01 122.8v10.6M211.37 122.8v10.6M213.73 122.8v10.6M216.09 122.8v10.6M218.45 122.8v10.6M220.81 122.8v10.6M223.17 122.8v10.6M225.53 122.8v10.6M227.88 122.8v10.6M230.24 122.8v10.6M232.60 122.8v10.6M234.96 122.8v10.6M237.32 122.8v10.6M239.68 122.8v10.6M242.04 122.8v10.6M244.40 122.8v10.6M246.76 122.8v10.6M249.12 122.8v10.6" stroke="#ffe680" stroke-opacity="0.75" stroke-width="0.8"/>
<path d="M92.46 122.8v10.6M94.82 122.8v10.6M97.18 122.8v10.6M99.54 122.8v10.6M101.90 122.8v10.6M104.26 122.8v10.6M106.61 122.8v10.6M108.97 122.8v10.6M111.33 122.8v10.6M113.69 122.8v10.6M116.05 122.8v10.6M118.41 122.8v10.6M120.77 122.8v10.6M123.13 122.8v10.6M125.49 122.8v10.6M127.85 122.8v10.6M130.21 122.8v10.6M132.57 122.8v10.6M134.93 122.8v10.6M137.28 122.8v10.6M139.64 122.8v10.6M142.00 122.8v10.6M144.36 122.8v10.6M146.72 122.8v10.6M149.08 122.8v10.6M151.44 122.8v10.6M153.80 122.8v10.6M156.16 122.8v10.6M158.52 122.8v10.6M160.88 122.8v10.6M163.24 122.8v10.6M165.59 122.8v10.6M167.95 122.8v10.6M170.31 122.8v10.6M172.67 122.8v10.6M175.03 122.8v10.6M177.39 122.8v10.6M179.75 122.8v10.6M182.11 122.8v10.6M184.47 122.8v10.6M186.83 122.8v10.6M189.19 122.8v10.6M191.55 122.8v10.6M193.91 122.8v10.6M196.26 122.8v10.6M198.62 122.8v10.6M200.98 122.8v10.6M203.34 122.8v10.6M205.70 122.8v10.6M208.06 122.8v10.6M210.42 122.8v10.6M212.78 122.8v10.6M215.14 122.8v10.6M217.50 122.8v10.6M219.86 122.8v10.6M222.22 122.8v10.6M224.58 122.8v10.6M226.93 122.8v10.6M229.29 122.8v10.6M231.65 122.8v10.6M234.01 122.8v10.6M236.37 122.8v10.6M238.73 122.8v10.6M241.09 122.8v10.6M243.45 122.8v10.6M245.81 122.8v10.6M248.17 122.8v10.6" stroke="#3a2000" stroke-opacity="0.75" stroke-width="0.55"/>
<path d="M92.46 133.4v10.4M94.82 133.4v10.4M97.18 133.4v10.4M99.54 133.4v10.4M101.90 133.4v10.4M104.26 133.4v10.4M106.61 133.4v10.4M108.97 133.4v10.4M111.33 133.4v10.4M113.69 133.4v10.4M116.05 133.4v10.4M118.41 133.4v10.4M120.77 133.4v10.4M123.13 133.4v10.4M125.49 133.4v10.4M127.85 133.4v10.4M130.21 133.4v10.4M132.57 133.4v10.4M250.53 133.4v10.4M252.89 133.4v10.4M255.24 133.4v10.4M257.60 133.4v10.4M259.96 133.4v10.4M262.32 133.4v10.4M264.68 133.4v10.4M267.04 133.4v10.4M269.40 133.4v10.4M271.76 133.4v10.4M274.12 133.4v10.4M276.48 133.4v10.4M278.84 133.4v10.4M281.20 133.4v10.4M283.56 133.4v10.4M285.91 133.4v10.4M288.27 133.4v10.4M290.63 133.4v10.4M292.99 133.4v10.4M295.35 133.4v10.4M297.71 133.4v10.4M300.07 133.4v10.4M302.43 133.4v10.4M304.79 133.4v10.4M307.15 133.4v10.4M309.51 133.4v10.4M92.46 143.8v10.7M94.82 143.8v10.7M97.18 143.8v10.7M99.54 143.8v10.7M101.90 143.8v10.7M134.93 143.8v10.7M137.28 143.8v10.7M139.64 143.8v10.7M142.00 143.8v10.7M144.36 143.8v10.7M146.72 143.8v10.7M149.08 143.8v10.7M151.44 143.8v10.7M153.80 143.8v10.7M156.16 143.8v10.7M158.52 143.8v10.7M160.88 143.8v10.7M163.24 143.8v10.7M165.59 143.8v10.7M167.95 143.8v10.7M170.31 143.8v10.7M172.67 143.8v10.7M175.03 143.8v10.7M177.39 143.8v10.7M179.75 143.8v10.7M182.11 143.8v10.7M184.47 143.8v10.7M250.53 143.8v10.7M252.89 143.8v10.7M255.24 143.8v10.7M257.60 143.8v10.7M259.96 143.8v10.7M311.87 143.8v10.7M314.23 143.8v10.7M316.58 143.8v10.7M318.94 143.8v10.7M321.30 143.8v10.7M323.66 143.8v10.7M326.02 143.8v10.7M328.38 143.8v10.7M330.74 143.8v10.7M333.10 143.8v10.7M335.46 143.8v10.7M337.82 143.8v10.7M340.18 143.8v10.7M342.54 143.8v10.7M344.89 143.8v10.7M347.25 143.8v10.7M349.61 143.8v10.7M351.97 143.8v10.7M354.33 143.8v10.7M356.69 143.8v10.7M359.05 143.8v10.7M361.41 143.8v10.7M104.26 154.5v10.3M106.61 154.5v10.3M108.97 154.5v10.3M111.33 154.5v10.3M134.93 154.5v10.3M137.28 154.5v10.3M139.64 154.5v10.3M186.83 154.5v10.3M189.19 154.5v10.3M191.55 154.5v10.3M193.91 154.5v10.3M262.32 154.5v10.3M264.68 154.5v10.3M267.04 154.5v10.3M311.87 154.5v10.3M314.23 154.5v10.3M316.58 154.5v10.3M318.94 154.5v10.3M363.77 154.5v10.3M366.13 154.5v10.3M368.49 154.5v10.3M370.85 154.5v10.3M373.21 154.5v10.3M375.56 154.5v10.3M377.92 154.5v10.3M92.46 164.8v10.6M94.82 164.8v10.6M97.18 164.8v10.6M99.54 164.8v10.6M104.26 164.8v10.6M106.61 164.8v10.6M108.97 164.8v10.6M111.33 164.8v10.6M113.69 164.8v10.6M116.05 164.8v10.6M118.41 164.8v10.6M120.77 164.8v10.6M123.13 164.8v10.6M125.49 164.8v10.6M127.85 164.8v10.6M134.93 164.8v10.6M137.28 164.8v10.6M139.64 164.8v10.6M142.00 164.8v10.6M144.36 164.8v10.6M146.72 164.8v10.6M149.08 164.8v10.6M151.44 164.8v10.6M153.80 164.8v10.6M156.16 164.8v10.6M158.52 164.8v10.6M160.88 164.8v10.6M163.24 164.8v10.6M165.59 164.8v10.6M167.95 164.8v10.6M186.83 164.8v10.6M189.19 164.8v10.6M191.55 164.8v10.6M196.26 164.8v10.6M198.62 164.8v10.6M200.98 164.8v10.6M203.34 164.8v10.6M205.70 164.8v10.6M208.06 164.8v10.6M210.42 164.8v10.6M212.78 164.8v10.6M250.53 164.8v10.6M252.89 164.8v10.6M255.24 164.8v10.6M262.32 164.8v10.6M264.68 164.8v10.6M269.40 164.8v10.6M271.76 164.8v10.6M274.12 164.8v10.6M276.48 164.8v10.6M278.84 164.8v10.6M281.20 164.8v10.6M283.56 164.8v10.6M285.91 164.8v10.6M311.87 164.8v10.6M321.30 164.8v10.6M323.66 164.8v10.6M326.02 164.8v10.6M380.28 164.8v10.6M382.64 164.8v10.6M385.00 164.8v10.6M387.36 164.8v10.6M389.72 164.8v10.6M392.08 164.8v10.6" stroke="#000" stroke-opacity="0.3" stroke-width="0.55"/>
<line x1="90.1" y1="133.4" x2="448.70000000000005" y2="133.4" stroke="#222" stroke-width="1.0"/>
<line x1="90.1" y1="143.8" x2="448.70000000000005" y2="143.8" stroke="#222" stroke-width="1.0"/>
<line x1="90.1" y1="154.5" x2="448.70000000000005" y2="154.5" stroke="#222" stroke-width="1.0"/>
<line x1="90.1" y1="164.8" x2="448.70000000000005" y2="164.8" stroke="#222" stroke-width="1.0"/>
<rect x="90.1" y="122.8" width="358.60" height="52.60" fill="none" stroke="#222" stroke-width="1.0"/>
<rect x="90.00" y="193.00" width="174.70" height="10.80" fill="#d2d2d2"/>
<rect x="90.00" y="193.00" width="94.43" height="10.80" fill="#d8a51f"/>
<rect x="184.43" y="193.00" width="44.86" height="10.80" fill="#5a9ad6"/>
<rect x="229.29" y="193.00" width="35.41" height="10.80" fill="#4f9636"/>
<rect x="90.00" y="203.80" width="174.70" height="10.60" fill="#d2d2d2"/>
<rect x="90.00" y="203.80" width="4.72" height="10.60" fill="#9e0c2e"/>
<rect x="184.43" y="203.80" width="4.72" height="10.60" fill="#9e0c2e"/>
<rect x="90.00" y="214.40" width="174.70" height="10.50" fill="#d2d2d2"/>
<rect x="90.00" y="214.40" width="2.36" height="10.50" fill="#2c5a40"/>
<rect x="94.72" y="214.40" width="9.44" height="10.50" fill="#2c5a40"/>
<rect x="189.15" y="214.40" width="7.08" height="10.50" fill="#2c5a40"/>
<rect x="90.00" y="224.90" width="174.70" height="10.60" fill="#d2d2d2"/>
<rect x="94.72" y="224.90" width="4.72" height="10.60" fill="#1f3e76"/>
<rect x="104.16" y="224.90" width="16.53" height="10.60" fill="#1f3e76"/>
<rect x="184.43" y="224.90" width="2.36" height="10.60" fill="#1f3e76"/>
<rect x="189.15" y="224.90" width="2.36" height="10.60" fill="#1f3e76"/>
<rect x="90.00" y="235.50" width="174.70" height="10.70" fill="#d2d2d2"/>
<rect x="90.00" y="235.50" width="7.08" height="10.70" fill="#421a64"/>
<rect x="99.44" y="235.50" width="2.36" height="10.70" fill="#421a64"/>
<rect x="104.16" y="235.50" width="11.80" height="10.70" fill="#421a64"/>
<rect x="120.69" y="235.50" width="14.16" height="10.70" fill="#421a64"/>
<rect x="191.51" y="235.50" width="2.36" height="10.70" fill="#421a64"/>
<rect x="229.29" y="235.50" width="2.36" height="10.70" fill="#421a64"/>
<path d="M95.67 203.8v10.6M98.03 203.8v10.6M100.39 203.8v10.6M102.75 203.8v10.6M105.11 203.8v10.6M107.48 203.8v10.6M109.84 203.8v10.6M112.20 203.8v10.6M114.56 203.8v10.6M116.92 203.8v10.6M119.28 203.8v10.6M121.64 203.8v10.6M124.00 203.8v10.6M126.36 203.8v10.6M128.72 203.8v10.6M131.08 203.8v10.6M133.44 203.8v10.6M135.81 203.8v10.6M138.17 203.8v10.6M140.53 203.8v10.6M142.89 203.8v10.6M145.25 203.8v10.6M147.61 203.8v10.6M149.97 203.8v10.6M152.33 203.8v10.6M154.69 203.8v10.6M157.05 203.8v10.6M159.41 203.8v10.6M161.77 203.8v10.6M164.14 203.8v10.6M166.50 203.8v10.6M168.86 203.8v10.6M171.22 203.8v10.6M173.58 203.8v10.6M175.94 203.8v10.6M178.30 203.8v10.6M180.66 203.8v10.6M183.02 203.8v10.6M190.10 203.8v10.6M192.46 203.8v10.6M194.83 203.8v10.6M197.19 203.8v10.6M199.55 203.8v10.6M201.91 203.8v10.6M204.27 203.8v10.6M206.63 203.8v10.6M208.99 203.8v10.6M211.35 203.8v10.6M213.71 203.8v10.6M216.07 203.8v10.6M218.43 203.8v10.6M220.79 203.8v10.6M223.16 203.8v10.6M225.52 203.8v10.6M227.88 203.8v10.6M230.24 203.8v10.6M232.60 203.8v10.6M234.96 203.8v10.6M237.32 203.8v10.6M239.68 203.8v10.6M242.04 203.8v10.6M244.40 203.8v10.6M246.76 203.8v10.6M249.12 203.8v10.6M251.49 203.8v10.6M253.85 203.8v10.6M256.21 203.8v10.6M258.57 203.8v10.6M260.93 203.8v10.6M263.29 203.8v10.6M93.31 214.4v10.5M105.11 214.4v10.5M107.48 214.4v10.5M109.84 214.4v10.5M112.20 214.4v10.5M114.56 214.4v10.5M116.92 214.4v10.5M119.28 214.4v10.5M121.64 214.4v10.5M124.00 214.4v10.5M126.36 214.4v10.5M128.72 214.4v10.5M131.08 214.4v10.5M133.44 214.4v10.5M135.81 214.4v10.5M138.17 214.4v10.5M140.53 214.4v10.5M142.89 214.4v10.5M145.25 214.4v10.5M147.61 214.4v10.5M149.97 214.4v10.5M152.33 214.4v10.5M154.69 214.4v10.5M157.05 214.4v10.5M159.41 214.4v10.5M161.77 214.4v10.5M164.14 214.4v10.5M166.50 214.4v10.5M168.86 214.4v10.5M171.22 214.4v10.5M173.58 214.4v10.5M175.94 214.4v10.5M178.30 214.4v10.5M180.66 214.4v10.5M183.02 214.4v10.5M185.38 214.4v10.5M187.74 214.4v10.5M197.19 214.4v10.5M199.55 214.4v10.5M201.91 214.4v10.5M204.27 214.4v10.5M206.63 214.4v10.5M208.99 214.4v10.5M211.35 214.4v10.5M213.71 214.4v10.5M216.07 214.4v10.5M218.43 214.4v10.5M220.79 214.4v10.5M223.16 214.4v10.5M225.52 214.4v10.5M227.88 214.4v10.5M230.24 214.4v10.5M232.60 214.4v10.5M234.96 214.4v10.5M237.32 214.4v10.5M239.68 214.4v10.5M242.04 214.4v10.5M244.40 214.4v10.5M246.76 214.4v10.5M249.12 214.4v10.5M251.49 214.4v10.5M253.85 214.4v10.5M256.21 214.4v10.5M258.57 214.4v10.5M260.93 214.4v10.5M263.29 214.4v10.5M90.95 224.9v10.6M93.31 224.9v10.6M100.39 224.9v10.6M102.75 224.9v10.6M121.64 224.9v10.6M124.00 224.9v10.6M126.36 224.9v10.6M128.72 224.9v10.6M131.08 224.9v10.6M133.44 224.9v10.6M135.81 224.9v10.6M138.17 224.9v10.6M140.53 224.9v10.6M142.89 224.9v10.6M145.25 224.9v10.6M147.61 224.9v10.6M149.97 224.9v10.6M152.33 224.9v10.6M154.69 224.9v10.6M157.05 224.9v10.6M159.41 224.9v10.6M161.77 224.9v10.6M164.14 224.9v10.6M166.50 224.9v10.6M168.86 224.9v10.6M171.22 224.9v10.6M173.58 224.9v10.6M175.94 224.9v10.6M178.30 224.9v10.6M180.66 224.9v10.6M183.02 224.9v10.6M187.74 224.9v10.6M192.46 224.9v10.6M194.83 224.9v10.6M197.19 224.9v10.6M199.55 224.9v10.6M201.91 224.9v10.6M204.27 224.9v10.6M206.63 224.9v10.6M208.99 224.9v10.6M211.35 224.9v10.6M213.71 224.9v10.6M216.07 224.9v10.6M218.43 224.9v10.6M220.79 224.9v10.6M223.16 224.9v10.6M225.52 224.9v10.6M227.88 224.9v10.6M230.24 224.9v10.6M232.60 224.9v10.6M234.96 224.9v10.6M237.32 224.9v10.6M239.68 224.9v10.6M242.04 224.9v10.6M244.40 224.9v10.6M246.76 224.9v10.6M249.12 224.9v10.6M251.49 224.9v10.6M253.85 224.9v10.6M256.21 224.9v10.6M258.57 224.9v10.6M260.93 224.9v10.6M263.29 224.9v10.6M98.03 235.5v10.7M102.75 235.5v10.7M116.92 235.5v10.7M119.28 235.5v10.7M135.81 235.5v10.7M138.17 235.5v10.7M140.53 235.5v10.7M142.89 235.5v10.7M145.25 235.5v10.7M147.61 235.5v10.7M149.97 235.5v10.7M152.33 235.5v10.7M154.69 235.5v10.7M157.05 235.5v10.7M159.41 235.5v10.7M161.77 235.5v10.7M164.14 235.5v10.7M166.50 235.5v10.7M168.86 235.5v10.7M171.22 235.5v10.7M173.58 235.5v10.7M175.94 235.5v10.7M178.30 235.5v10.7M180.66 235.5v10.7M183.02 235.5v10.7M185.38 235.5v10.7M187.74 235.5v10.7M190.10 235.5v10.7M194.83 235.5v10.7M197.19 235.5v10.7M199.55 235.5v10.7M201.91 235.5v10.7M204.27 235.5v10.7M206.63 235.5v10.7M208.99 235.5v10.7M211.35 235.5v10.7M213.71 235.5v10.7M216.07 235.5v10.7M218.43 235.5v10.7M220.79 235.5v10.7M223.16 235.5v10.7M225.52 235.5v10.7M227.88 235.5v10.7M232.60 235.5v10.7M234.96 235.5v10.7M237.32 235.5v10.7M239.68 235.5v10.7M242.04 235.5v10.7M244.40 235.5v10.7M246.76 235.5v10.7M249.12 235.5v10.7M251.49 235.5v10.7M253.85 235.5v10.7M256.21 235.5v10.7M258.57 235.5v10.7M260.93 235.5v10.7M263.29 235.5v10.7" stroke="#fff" stroke-opacity="1" stroke-width="1.0"/>
<path d="M94.72 203.8v10.6M97.08 203.8v10.6M99.44 203.8v10.6M101.80 203.8v10.6M104.16 203.8v10.6M106.53 203.8v10.6M108.89 203.8v10.6M111.25 203.8v10.6M113.61 203.8v10.6M115.97 203.8v10.6M118.33 203.8v10.6M120.69 203.8v10.6M123.05 203.8v10.6M125.41 203.8v10.6M127.77 203.8v10.6M130.13 203.8v10.6M132.49 203.8v10.6M134.86 203.8v10.6M137.22 203.8v10.6M139.58 203.8v10.6M141.94 203.8v10.6M144.30 203.8v10.6M146.66 203.8v10.6M149.02 203.8v10.6M151.38 203.8v10.6M153.74 203.8v10.6M156.10 203.8v10.6M158.46 203.8v10.6M160.82 203.8v10.6M163.19 203.8v10.6M165.55 203.8v10.6M167.91 203.8v10.6M170.27 203.8v10.6M172.63 203.8v10.6M174.99 203.8v10.6M177.35 203.8v10.6M179.71 203.8v10.6M182.07 203.8v10.6M189.15 203.8v10.6M191.51 203.8v10.6M193.88 203.8v10.6M196.24 203.8v10.6M198.60 203.8v10.6M200.96 203.8v10.6M203.32 203.8v10.6M205.68 203.8v10.6M208.04 203.8v10.6M210.40 203.8v10.6M212.76 203.8v10.6M215.12 203.8v10.6M217.48 203.8v10.6M219.84 203.8v10.6M222.21 203.8v10.6M224.57 203.8v10.6M226.93 203.8v10.6M229.29 203.8v10.6M231.65 203.8v10.6M234.01 203.8v10.6M236.37 203.8v10.6M238.73 203.8v10.6M241.09 203.8v10.6M243.45 203.8v10.6M245.81 203.8v10.6M248.17 203.8v10.6M250.54 203.8v10.6M252.90 203.8v10.6M255.26 203.8v10.6M257.62 203.8v10.6M259.98 203.8v10.6M262.34 203.8v10.6M92.36 214.4v10.5M104.16 214.4v10.5M106.53 214.4v10.5M108.89 214.4v10.5M111.25 214.4v10.5M113.61 214.4v10.5M115.97 214.4v10.5M118.33 214.4v10.5M120.69 214.4v10.5M123.05 214.4v10.5M125.41 214.4v10.5M127.77 214.4v10.5M130.13 214.4v10.5M132.49 214.4v10.5M134.86 214.4v10.5M137.22 214.4v10.5M139.58 214.4v10.5M141.94 214.4v10.5M144.30 214.4v10.5M146.66 214.4v10.5M149.02 214.4v10.5M151.38 214.4v10.5M153.74 214.4v10.5M156.10 214.4v10.5M158.46 214.4v10.5M160.82 214.4v10.5M163.19 214.4v10.5M165.55 214.4v10.5M167.91 214.4v10.5M170.27 214.4v10.5M172.63 214.4v10.5M174.99 214.4v10.5M177.35 214.4v10.5M179.71 214.4v10.5M182.07 214.4v10.5M184.43 214.4v10.5M186.79 214.4v10.5M196.24 214.4v10.5M198.60 214.4v10.5M200.96 214.4v10.5M203.32 214.4v10.5M205.68 214.4v10.5M208.04 214.4v10.5M210.40 214.4v10.5M212.76 214.4v10.5M215.12 214.4v10.5M217.48 214.4v10.5M219.84 214.4v10.5M222.21 214.4v10.5M224.57 214.4v10.5M226.93 214.4v10.5M229.29 214.4v10.5M231.65 214.4v10.5M234.01 214.4v10.5M236.37 214.4v10.5M238.73 214.4v10.5M241.09 214.4v10.5M243.45 214.4v10.5M245.81 214.4v10.5M248.17 214.4v10.5M250.54 214.4v10.5M252.90 214.4v10.5M255.26 214.4v10.5M257.62 214.4v10.5M259.98 214.4v10.5M262.34 214.4v10.5M92.36 224.9v10.6M99.44 224.9v10.6M101.80 224.9v10.6M120.69 224.9v10.6M123.05 224.9v10.6M125.41 224.9v10.6M127.77 224.9v10.6M130.13 224.9v10.6M132.49 224.9v10.6M134.86 224.9v10.6M137.22 224.9v10.6M139.58 224.9v10.6M141.94 224.9v10.6M144.30 224.9v10.6M146.66 224.9v10.6M149.02 224.9v10.6M151.38 224.9v10.6M153.74 224.9v10.6M156.10 224.9v10.6M158.46 224.9v10.6M160.82 224.9v10.6M163.19 224.9v10.6M165.55 224.9v10.6M167.91 224.9v10.6M170.27 224.9v10.6M172.63 224.9v10.6M174.99 224.9v10.6M177.35 224.9v10.6M179.71 224.9v10.6M182.07 224.9v10.6M186.79 224.9v10.6M191.51 224.9v10.6M193.88 224.9v10.6M196.24 224.9v10.6M198.60 224.9v10.6M200.96 224.9v10.6M203.32 224.9v10.6M205.68 224.9v10.6M208.04 224.9v10.6M210.40 224.9v10.6M212.76 224.9v10.6M215.12 224.9v10.6M217.48 224.9v10.6M219.84 224.9v10.6M222.21 224.9v10.6M224.57 224.9v10.6M226.93 224.9v10.6M229.29 224.9v10.6M231.65 224.9v10.6M234.01 224.9v10.6M236.37 224.9v10.6M238.73 224.9v10.6M241.09 224.9v10.6M243.45 224.9v10.6M245.81 224.9v10.6M248.17 224.9v10.6M250.54 224.9v10.6M252.90 224.9v10.6M255.26 224.9v10.6M257.62 224.9v10.6M259.98 224.9v10.6M262.34 224.9v10.6M97.08 235.5v10.7M101.80 235.5v10.7M115.97 235.5v10.7M118.33 235.5v10.7M134.86 235.5v10.7M137.22 235.5v10.7M139.58 235.5v10.7M141.94 235.5v10.7M144.30 235.5v10.7M146.66 235.5v10.7M149.02 235.5v10.7M151.38 235.5v10.7M153.74 235.5v10.7M156.10 235.5v10.7M158.46 235.5v10.7M160.82 235.5v10.7M163.19 235.5v10.7M165.55 235.5v10.7M167.91 235.5v10.7M170.27 235.5v10.7M172.63 235.5v10.7M174.99 235.5v10.7M177.35 235.5v10.7M179.71 235.5v10.7M182.07 235.5v10.7M184.43 235.5v10.7M186.79 235.5v10.7M189.15 235.5v10.7M193.88 235.5v10.7M196.24 235.5v10.7M198.60 235.5v10.7M200.96 235.5v10.7M203.32 235.5v10.7M205.68 235.5v10.7M208.04 235.5v10.7M210.40 235.5v10.7M212.76 235.5v10.7M215.12 235.5v10.7M217.48 235.5v10.7M219.84 235.5v10.7M222.21 235.5v10.7M224.57 235.5v10.7M226.93 235.5v10.7M231.65 235.5v10.7M234.01 235.5v10.7M236.37 235.5v10.7M238.73 235.5v10.7M241.09 235.5v10.7M243.45 235.5v10.7M245.81 235.5v10.7M248.17 235.5v10.7M250.54 235.5v10.7M252.90 235.5v10.7M255.26 235.5v10.7M257.62 235.5v10.7M259.98 235.5v10.7M262.34 235.5v10.7" stroke="#222" stroke-opacity="0.85" stroke-width="0.5"/>
<path d="M90.95 193.0v10.8M93.31 193.0v10.8M95.67 193.0v10.8M98.03 193.0v10.8M100.39 193.0v10.8M102.75 193.0v10.8M105.11 193.0v10.8M107.48 193.0v10.8M109.84 193.0v10.8M112.20 193.0v10.8M114.56 193.0v10.8M116.92 193.0v10.8M119.28 193.0v10.8M121.64 193.0v10.8M124.00 193.0v10.8M126.36 193.0v10.8M128.72 193.0v10.8M131.08 193.0v10.8M133.44 193.0v10.8M135.81 193.0v10.8M138.17 193.0v10.8M140.53 193.0v10.8M142.89 193.0v10.8M145.25 193.0v10.8M147.61 193.0v10.8M149.97 193.0v10.8M152.33 193.0v10.8M154.69 193.0v10.8M157.05 193.0v10.8M159.41 193.0v10.8M161.77 193.0v10.8M164.14 193.0v10.8M166.50 193.0v10.8M168.86 193.0v10.8M171.22 193.0v10.8M173.58 193.0v10.8M175.94 193.0v10.8M178.30 193.0v10.8M180.66 193.0v10.8M183.02 193.0v10.8" stroke="#ffe680" stroke-opacity="0.75" stroke-width="0.8"/>
<path d="M92.36 193.0v10.8M94.72 193.0v10.8M97.08 193.0v10.8M99.44 193.0v10.8M101.80 193.0v10.8M104.16 193.0v10.8M106.53 193.0v10.8M108.89 193.0v10.8M111.25 193.0v10.8M113.61 193.0v10.8M115.97 193.0v10.8M118.33 193.0v10.8M120.69 193.0v10.8M123.05 193.0v10.8M125.41 193.0v10.8M127.77 193.0v10.8M130.13 193.0v10.8M132.49 193.0v10.8M134.86 193.0v10.8M137.22 193.0v10.8M139.58 193.0v10.8M141.94 193.0v10.8M144.30 193.0v10.8M146.66 193.0v10.8M149.02 193.0v10.8M151.38 193.0v10.8M153.74 193.0v10.8M156.10 193.0v10.8M158.46 193.0v10.8M160.82 193.0v10.8M163.19 193.0v10.8M165.55 193.0v10.8M167.91 193.0v10.8M170.27 193.0v10.8M172.63 193.0v10.8M174.99 193.0v10.8M177.35 193.0v10.8M179.71 193.0v10.8M182.07 193.0v10.8" stroke="#3a2000" stroke-opacity="0.75" stroke-width="0.55"/>
<path d="M92.36 203.8v10.6M184.43 203.8v10.6M186.79 203.8v10.6M94.72 214.4v10.5M97.08 214.4v10.5M99.44 214.4v10.5M101.80 214.4v10.5M189.15 214.4v10.5M191.51 214.4v10.5M193.88 214.4v10.5M94.72 224.9v10.6M97.08 224.9v10.6M104.16 224.9v10.6M106.53 224.9v10.6M108.89 224.9v10.6M111.25 224.9v10.6M113.61 224.9v10.6M115.97 224.9v10.6M118.33 224.9v10.6M184.43 224.9v10.6M189.15 224.9v10.6M92.36 235.5v10.7M94.72 235.5v10.7M99.44 235.5v10.7M104.16 235.5v10.7M106.53 235.5v10.7M108.89 235.5v10.7M111.25 235.5v10.7M113.61 235.5v10.7M120.69 235.5v10.7M123.05 235.5v10.7M125.41 235.5v10.7M127.77 235.5v10.7M130.13 235.5v10.7M132.49 235.5v10.7M191.51 235.5v10.7M229.29 235.5v10.7" stroke="#000" stroke-opacity="0.3" stroke-width="0.55"/>
<path d="M185.38 193.0v10.8M187.74 193.0v10.8M190.10 193.0v10.8M192.46 193.0v10.8M194.83 193.0v10.8M197.19 193.0v10.8M199.55 193.0v10.8M201.91 193.0v10.8M204.27 193.0v10.8M206.63 193.0v10.8M208.99 193.0v10.8M211.35 193.0v10.8M213.71 193.0v10.8M216.07 193.0v10.8M218.43 193.0v10.8M220.79 193.0v10.8M223.16 193.0v10.8M225.52 193.0v10.8M227.88 193.0v10.8M230.24 193.0v10.8M232.60 193.0v10.8M234.96 193.0v10.8M237.32 193.0v10.8M239.68 193.0v10.8M242.04 193.0v10.8M244.40 193.0v10.8M246.76 193.0v10.8M249.12 193.0v10.8M251.49 193.0v10.8M253.85 193.0v10.8M256.21 193.0v10.8M258.57 193.0v10.8M260.93 193.0v10.8M263.29 193.0v10.8" stroke="#fff" stroke-opacity="0.25" stroke-width="0.7"/>
<path d="M184.43 193.0v10.8M186.79 193.0v10.8M189.15 193.0v10.8M191.51 193.0v10.8M193.88 193.0v10.8M196.24 193.0v10.8M198.60 193.0v10.8M200.96 193.0v10.8M203.32 193.0v10.8M205.68 193.0v10.8M208.04 193.0v10.8M210.40 193.0v10.8M212.76 193.0v10.8M215.12 193.0v10.8M217.48 193.0v10.8M219.84 193.0v10.8M222.21 193.0v10.8M224.57 193.0v10.8M226.93 193.0v10.8M229.29 193.0v10.8M231.65 193.0v10.8M234.01 193.0v10.8M236.37 193.0v10.8M238.73 193.0v10.8M241.09 193.0v10.8M243.45 193.0v10.8M245.81 193.0v10.8M248.17 193.0v10.8M250.54 193.0v10.8M252.90 193.0v10.8M255.26 193.0v10.8M257.62 193.0v10.8M259.98 193.0v10.8M262.34 193.0v10.8" stroke="#000" stroke-opacity="0.35" stroke-width="0.55"/>
<line x1="90.0" y1="203.8" x2="264.7" y2="203.8" stroke="#222" stroke-width="1.0"/>
<line x1="90.0" y1="214.4" x2="264.7" y2="214.4" stroke="#222" stroke-width="1.0"/>
<line x1="90.0" y1="224.9" x2="264.7" y2="224.9" stroke="#222" stroke-width="1.0"/>
<line x1="90.0" y1="235.5" x2="264.7" y2="235.5" stroke="#222" stroke-width="1.0"/>
<rect x="90.0" y="193.0" width="174.70" height="53.20" fill="none" stroke="#222" stroke-width="1.0"/>
<text x="20.9" y="129.9" font-size="7.6">JCOG-PI high-risk</text>
<text x="20.9" y="140.7" font-size="7.6">Age ≥ 70 years</text>
<text x="20.9" y="151.29999999999998" font-size="7.6"><tspan font-style="italic">PRKCB</tspan> mutations</text>
<text x="20.9" y="162.7" font-size="7.6">Amp (9p24): <tspan font-style="italic">PD-L1</tspan></text>
<text x="20.9" y="173.29999999999998" font-size="7.6">Death</text>
<text x="15.8" y="200.7" font-size="7.6">Subtype</text>
<text x="15.8" y="211.79999999999998" font-size="7.6"><tspan font-style="italic">IRF4</tspan> mutations</text>
<text x="15.8" y="223.2" font-size="7.6">Amp (9p24): <tspan font-style="italic">PD-L1</tspan></text>
<text x="15.8" y="233.79999999999998" font-size="7.6">Del (9p21): <tspan font-style="italic">CDKN2A</tspan></text>
<text x="15.8" y="244.5" font-size="7.6">Death</text>
<text x="451.5" y="129.6" font-size="7.6">(n = 68)</text>
<text x="451.5" y="141.29999999999998" font-size="7.6">(n = 45)</text>
<text x="451.5" y="151.9" font-size="7.6">(n = 55)</text>
<text x="451.5" y="163.0" font-size="7.6">(n = 25)</text>
<text x="267.5" y="212.00000000000003" font-size="7.6">(n = 4)</text>
<text x="267.5" y="222.55" font-size="7.6">(n = 8)</text>
<text x="267.5" y="233.1" font-size="7.6">(n = 11)</text>
<text x="310.4" y="206.1" font-size="7.6">Subtype</text>
<rect x="310.9" y="210.1" width="4.2" height="4.2" fill="#d8a51f" stroke="#222" stroke-width="0.9"/>
<text x="318" y="214.89999999999998" font-size="7.6">Unfavorable chronic (n = 40)</text>
<rect x="310.9" y="220.1" width="4.2" height="4.2" fill="#5a9ad6" stroke="#222" stroke-width="0.9"/>
<text x="318" y="224.89999999999998" font-size="7.6">Favorable chronic (n = 19)</text>
<rect x="310.9" y="230.1" width="4.2" height="4.2" fill="#4f9636" stroke="#222" stroke-width="0.9"/>
<text x="318" y="234.89999999999998" font-size="7.6">Smoldering (n = 15)</text>
<rect x="44.1" y="282.1" width="129.8" height="108.0" fill="none" stroke="#111" stroke-width="1.3"/>
<line x1="41.300000000000004" y1="385.9" x2="44.1" y2="385.9" stroke="#111" stroke-width="1.0"/>
<text font-size="6.9" stroke-width="0.06" text-anchor="end" transform="translate(37.7,388.3) scale(0.9,1)">0</text>
<line x1="41.300000000000004" y1="366.08" x2="44.1" y2="366.08" stroke="#111" stroke-width="1.0"/>
<text font-size="6.9" stroke-width="0.06" text-anchor="end" transform="translate(37.7,368.5) scale(0.9,1)">0.2</text>
<line x1="41.300000000000004" y1="346.26" x2="44.1" y2="346.26" stroke="#111" stroke-width="1.0"/>
<text font-size="6.9" stroke-width="0.06" text-anchor="end" transform="translate(37.7,348.7) scale(0.9,1)">0.4</text>
<line x1="41.300000000000004" y1="326.44" x2="44.1" y2="326.44" stroke="#111" stroke-width="1.0"/>
<text font-size="6.9" stroke-width="0.06" text-anchor="end" transform="translate(37.7,328.8) scale(0.9,1)">0.6</text>
<line x1="41.300000000000004" y1="306.62" x2="44.1" y2="306.62" stroke="#111" stroke-width="1.0"/>
<text font-size="6.9" stroke-width="0.06" text-anchor="end" transform="translate(37.7,309.0) scale(0.9,1)">0.8</text>
<line x1="41.300000000000004" y1="286.8" x2="44.1" y2="286.8" stroke="#111" stroke-width="1.0"/>
<text font-size="6.9" stroke-width="0.06" text-anchor="end" transform="translate(37.7,289.2) scale(0.9,1)">1.0</text>
<line x1="44.1" y1="390.1" x2="44.1" y2="392.90000000000003" stroke="#111" stroke-width="1.0"/>
<text font-size="6.9" stroke-width="0.06" text-anchor="middle" transform="translate(44.1,402.1) scale(0.9,1)">0</text>
<line x1="69.98" y1="390.1" x2="69.98" y2="392.90000000000003" stroke="#111" stroke-width="1.0"/>
<text font-size="6.9" stroke-width="0.06" text-anchor="middle" transform="translate(70.0,402.1) scale(0.9,1)">1</text>
<line x1="95.86000000000001" y1="390.1" x2="95.86000000000001" y2="392.90000000000003" stroke="#111" stroke-width="1.0"/>
<text font-size="6.9" stroke-width="0.06" text-anchor="middle" transform="translate(95.9,402.1) scale(0.9,1)">2</text>
<line x1="121.74000000000001" y1="390.1" x2="121.74000000000001" y2="392.90000000000003" stroke="#111" stroke-width="1.0"/>
<text font-size="6.9" stroke-width="0.06" text-anchor="middle" transform="translate(121.7,402.1) scale(0.9,1)">3</text>
<line x1="147.62" y1="390.1" x2="147.62" y2="392.90000000000003" stroke="#111" stroke-width="1.0"/>
<text font-size="6.9" stroke-width="0.06" text-anchor="middle" transform="translate(147.6,402.1) scale(0.9,1)">4</text>
<line x1="173.5" y1="390.1" x2="173.5" y2="392.90000000000003" stroke="#111" stroke-width="1.0"/>
<text font-size="6.9" stroke-width="0.06" text-anchor="middle" transform="translate(173.5,402.1) scale(0.9,1)">5</text>
<text x="110.5" y="277.7" font-size="6.6" stroke-width="0.1" text-anchor="middle">Aggressive subtypes</text>
<path d="M44.1 286.8H45V288.3H46V289.8H47V291.4H47.8V293.5H50.5V297.5H52.5V301.5H53.3V306.9H54.6V311H57.3V315H60V317H61.3V321.7H63.4V326.7H64.7V333.5H66.7V337.5H70.1V339.5H72.1V341.5H74.1V344.2H75.5V346.9H77.5V351H80.2V355H83.5V357.7H86.2V360.4H88.3V363H90.9V365.8H93.6V367.2H102.6V370H110.5V372.8H148V377.2H173.5" fill="none" stroke="#72a63a" stroke-width="1.25"/>
<path d="M49.3 294.4v3.2M57 313.4v3.2M112.3 371.2v3.2M139.6 371.2v3.2M167.5 375.59999999999997v3.2" stroke="#72a63a" stroke-width="0.8"/>
<path d="M44.1 286.8H45.3V288.2H46.8V289.6H48.2V291H49.8V292.4H51.4V293.5H56.2V295.5H58.8V297.5H60.2V301.5H61.5V306.2H63.6V309H65.6V314.3H67.6V317.7H68.9V320.4H70.3V325.8H71V331.2H75V331.4H76.3V333.5H77V336.2H87.1V340.2H89.1V343.6H90.5V351H91.1V357.7H129.8V363.4H173.5" fill="none" stroke="#203a68" stroke-width="1.25"/>
<path d="M52 291.9v3.2M54 291.9v3.2M62.5 304.59999999999997v3.2M66.6 312.7v3.2M75.5 329.79999999999995v3.2M152.3 361.79999999999995v3.2" stroke="#203a68" stroke-width="0.8"/>
<path d="M44.1 286.8H45V293.5H46.3V302.9H47.7V311H49V320.4H50.4V326H51.2V332H54.1V333.5H55.3V336.8H56V344.2H56.6V352.3H57.3V358.6H61.5V363.7H68.3V369.8H80.6V374.5H84.4V379.9H99.2V386" fill="none" stroke="#a01232" stroke-width="1.25"/>
<text x="49.2" y="384.1" font-size="5.9" stroke-width="0.1"><tspan font-style="italic">P</tspan> &lt; 0.001</text>
<text x="0" y="0" font-size="9.4" text-anchor="middle" fill="#1a1a1a" transform="translate(110.0,414.1) scale(0.83,1)">Time (year)</text>
<text x="0" y="0" font-size="9.4" text-anchor="middle" fill="#1a1a1a" transform="translate(24.2,336.1) rotate(-90) scale(0.83,1)">Overall survival</text>
<text x="42.7" y="424.9" font-size="6.1" stroke-width="0.1">Age ≥ 70 years,</text>
<text x="42.7" y="433.29999999999995" font-size="6.1" stroke-width="0.1"><tspan font-style="italic">PRKCB</tspan> mutations,</text>
<text x="42.7" y="441.7" font-size="6.1" stroke-width="0.1">and Amp (9p24)</text>
<line x1="106.9" y1="422.6" x2="116.2" y2="422.6" stroke="#203a68" stroke-width="1.6"/>
<text x="119.2" y="424.8" font-size="6.1" stroke-width="0.1">0 factor (n = 52)</text>
<line x1="106.9" y1="431.1" x2="116.2" y2="431.1" stroke="#72a63a" stroke-width="1.6"/>
<text x="119.2" y="433.3" font-size="6.1" stroke-width="0.1">1 factor (n = 75)</text>
<line x1="106.9" y1="439.5" x2="116.2" y2="439.5" stroke="#a01232" stroke-width="1.6"/>
<text x="119.2" y="441.7" font-size="6.1" stroke-width="0.1">≥ 2 factors (n = 25)</text>
<rect x="211.5" y="282.6" width="129.7" height="107.5" fill="none" stroke="#111" stroke-width="1.3"/>
<line x1="208.7" y1="385.9" x2="211.5" y2="385.9" stroke="#111" stroke-width="1.0"/>
<text font-size="6.9" stroke-width="0.06" text-anchor="end" transform="translate(205.1,388.3) scale(0.9,1)">0</text>
<line x1="208.7" y1="366.0" x2="211.5" y2="366.0" stroke="#111" stroke-width="1.0"/>
<text font-size="6.9" stroke-width="0.06" text-anchor="end" transform="translate(205.1,368.4) scale(0.9,1)">0.2</text>
<line x1="208.7" y1="346.09999999999997" x2="211.5" y2="346.09999999999997" stroke="#111" stroke-width="1.0"/>
<text font-size="6.9" stroke-width="0.06" text-anchor="end" transform="translate(205.1,348.5) scale(0.9,1)">0.4</text>
<line x1="208.7" y1="326.2" x2="211.5" y2="326.2" stroke="#111" stroke-width="1.0"/>
<text font-size="6.9" stroke-width="0.06" text-anchor="end" transform="translate(205.1,328.6) scale(0.9,1)">0.6</text>
<line x1="208.7" y1="306.29999999999995" x2="211.5" y2="306.29999999999995" stroke="#111" stroke-width="1.0"/>
<text font-size="6.9" stroke-width="0.06" text-anchor="end" transform="translate(205.1,308.7) scale(0.9,1)">0.8</text>
<line x1="208.7" y1="286.4" x2="211.5" y2="286.4" stroke="#111" stroke-width="1.0"/>
<text font-size="6.9" stroke-width="0.06" text-anchor="end" transform="translate(205.1,288.8) scale(0.9,1)">1.0</text>
<line x1="211.5" y1="390.1" x2="211.5" y2="392.90000000000003" stroke="#111" stroke-width="1.0"/>
<text font-size="6.9" stroke-width="0.06" text-anchor="middle" transform="translate(211.5,402.1) scale(0.9,1)">0</text>
<line x1="237.44" y1="390.1" x2="237.44" y2="392.90000000000003" stroke="#111" stroke-width="1.0"/>
<text font-size="6.9" stroke-width="0.06" text-anchor="middle" transform="translate(237.4,402.1) scale(0.9,1)">1</text>
<line x1="263.38" y1="390.1" x2="263.38" y2="392.90000000000003" stroke="#111" stroke-width="1.0"/>
<text font-size="6.9" stroke-width="0.06" text-anchor="middle" transform="translate(263.4,402.1) scale(0.9,1)">2</text>
<line x1="289.32" y1="390.1" x2="289.32" y2="392.90000000000003" stroke="#111" stroke-width="1.0"/>
<text font-size="6.9" stroke-width="0.06" text-anchor="middle" transform="translate(289.3,402.1) scale(0.9,1)">3</text>
<line x1="315.26" y1="390.1" x2="315.26" y2="392.90000000000003" stroke="#111" stroke-width="1.0"/>
<text font-size="6.9" stroke-width="0.06" text-anchor="middle" transform="translate(315.3,402.1) scale(0.9,1)">4</text>
<line x1="341.2" y1="390.1" x2="341.2" y2="392.90000000000003" stroke="#111" stroke-width="1.0"/>
<text font-size="6.9" stroke-width="0.06" text-anchor="middle" transform="translate(341.2,402.1) scale(0.9,1)">5</text>
<text x="277.9" y="277.7" font-size="6.6" stroke-width="0.1" text-anchor="middle">Aggressive subtypes: JCOG-PI moderate-risk</text>
<path d="M211.5 286.4H218.5V288.5H223.8V291.2H227.9V295.2H230.6V301.9H231.9V305.3H232.6V309.3H236.6V317.4H238.6V321.1H244V327.7H254.8V333.1H256.8V339.8H257.5V343.8H258.2V348.9H297.4V356.9H341.2" fill="none" stroke="#203a68" stroke-width="1.25"/>
<path d="M221 287.4v3.2M226 290.4v3.2M229 294.4v3.2M270.4 347.29999999999995v3.2M319.6 355.29999999999995v3.2" stroke="#203a68" stroke-width="0.8"/>
<path d="M211.5 286.4H218.5V289.1H222.5V291.2H226.5V295.2H228.6V300.6H231.2V303.9H231.9V314H233.3V322.1H237.3V324.1H239.3V326.3H243.4V330.4H244.6V339.8H253.5V343.8H257.5V345.2H258.8V349.2H271.3V355.1H277.7V360H315.2V368.9H341.2" fill="none" stroke="#72a63a" stroke-width="1.25"/>
<path d="M216 287.5v3.2M219.5 287.5v3.2M221.5 287.5v3.2M224 289.59999999999997v3.2M225.5 289.59999999999997v3.2M227.5 293.59999999999997v3.2M229.8 299.0v3.2M238.3 322.5v3.2M240.5 324.7v3.2M270.5 347.59999999999997v3.2M281.3 358.4v3.2M306.3 358.4v3.2M334.3 367.29999999999995v3.2" stroke="#72a63a" stroke-width="0.8"/>
<path d="M211.5 286.4H213.7V295.2H217.5V303.9H218.8V314.7H222.7V327H225.2V338.5H229.9V350.6H248.3V362H252.1V374.1H266.9V386" fill="none" stroke="#a01232" stroke-width="1.25"/>
<text x="217.5" y="384.1" font-size="5.9" stroke-width="0.1"><tspan font-style="italic">P</tspan> = 0.005</text>
<text x="0" y="0" font-size="9.4" text-anchor="middle" fill="#1a1a1a" transform="translate(277.6,414.1) scale(0.83,1)">Time (year)</text>
<text x="0" y="0" font-size="9.4" text-anchor="middle" fill="#1a1a1a" transform="translate(190.8,336.4) rotate(-90) scale(0.83,1)">Overall survival</text>
<text x="210.1" y="424.9" font-size="6.1" stroke-width="0.1">Age ≥ 70 years,</text>
<text x="210.1" y="433.29999999999995" font-size="6.1" stroke-width="0.1"><tspan font-style="italic">PRKCB</tspan> mutations,</text>
<text x="210.1" y="441.7" font-size="6.1" stroke-width="0.1">and Amp (9p24)</text>
<line x1="274.4" y1="422.6" x2="283.7" y2="422.6" stroke="#203a68" stroke-width="1.6"/>
<text x="286.7" y="424.8" font-size="6.1" stroke-width="0.1">0 factor (n = 29)</text>
<line x1="274.4" y1="431.1" x2="283.7" y2="431.1" stroke="#72a63a" stroke-width="1.6"/>
<text x="286.7" y="433.3" font-size="6.1" stroke-width="0.1">1 factor (n = 43)</text>
<line x1="274.4" y1="439.5" x2="283.7" y2="439.5" stroke="#a01232" stroke-width="1.6"/>
<text x="286.7" y="441.7" font-size="6.1" stroke-width="0.1">≥ 2 factors (n = 12)</text>
<rect x="380.1" y="282.9" width="129.5" height="107.20000000000005" fill="none" stroke="#111" stroke-width="1.3"/>
<line x1="377.3" y1="386.2" x2="380.1" y2="386.2" stroke="#111" stroke-width="1.0"/>
<text font-size="6.9" stroke-width="0.06" text-anchor="end" transform="translate(373.7,388.6) scale(0.9,1)">0</text>
<line x1="377.3" y1="366.32" x2="380.1" y2="366.32" stroke="#111" stroke-width="1.0"/>
<text font-size="6.9" stroke-width="0.06" text-anchor="end" transform="translate(373.7,368.7) scale(0.9,1)">0.2</text>
<line x1="377.3" y1="346.44" x2="380.1" y2="346.44" stroke="#111" stroke-width="1.0"/>
<text font-size="6.9" stroke-width="0.06" text-anchor="end" transform="translate(373.7,348.8) scale(0.9,1)">0.4</text>
<line x1="377.3" y1="326.56" x2="380.1" y2="326.56" stroke="#111" stroke-width="1.0"/>
<text font-size="6.9" stroke-width="0.06" text-anchor="end" transform="translate(373.7,329.0) scale(0.9,1)">0.6</text>
<line x1="377.3" y1="306.68" x2="380.1" y2="306.68" stroke="#111" stroke-width="1.0"/>
<text font-size="6.9" stroke-width="0.06" text-anchor="end" transform="translate(373.7,309.1) scale(0.9,1)">0.8</text>
<line x1="377.3" y1="286.8" x2="380.1" y2="286.8" stroke="#111" stroke-width="1.0"/>
<text font-size="6.9" stroke-width="0.06" text-anchor="end" transform="translate(373.7,289.2) scale(0.9,1)">1.0</text>
<line x1="380.1" y1="390.1" x2="380.1" y2="392.90000000000003" stroke="#111" stroke-width="1.0"/>
<text font-size="6.9" stroke-width="0.06" text-anchor="middle" transform="translate(380.1,402.1) scale(0.9,1)">0</text>
<line x1="406.0" y1="390.1" x2="406.0" y2="392.90000000000003" stroke="#111" stroke-width="1.0"/>
<text font-size="6.9" stroke-width="0.06" text-anchor="middle" transform="translate(406.0,402.1) scale(0.9,1)">1</text>
<line x1="431.90000000000003" y1="390.1" x2="431.90000000000003" y2="392.90000000000003" stroke="#111" stroke-width="1.0"/>
<text font-size="6.9" stroke-width="0.06" text-anchor="middle" transform="translate(431.9,402.1) scale(0.9,1)">2</text>
<line x1="457.8" y1="390.1" x2="457.8" y2="392.90000000000003" stroke="#111" stroke-width="1.0"/>
<text font-size="6.9" stroke-width="0.06" text-anchor="middle" transform="translate(457.8,402.1) scale(0.9,1)">3</text>
<line x1="483.70000000000005" y1="390.1" x2="483.70000000000005" y2="392.90000000000003" stroke="#111" stroke-width="1.0"/>
<text font-size="6.9" stroke-width="0.06" text-anchor="middle" transform="translate(483.7,402.1) scale(0.9,1)">4</text>
<line x1="509.6" y1="390.1" x2="509.6" y2="392.90000000000003" stroke="#111" stroke-width="1.0"/>
<text font-size="6.9" stroke-width="0.06" text-anchor="middle" transform="translate(509.6,402.1) scale(0.9,1)">5</text>
<text x="442.7" y="277.7" font-size="6.6" stroke-width="0.1" text-anchor="middle">Aggressive subtypes: JCOG-PI high-risk</text>
<path d="M380.1 286.8H381.2V299.2H382.6V304.6H386.2V306H387.5V311.3H388.6V322.1H389.4V337.1H392.2V341.2H394.9V343.8H396.9V347.2H398.3V351.9H400.3V357.3H401.6V360H409.7V366.7H413.1V368.1H415.1V371.4H417.8V372.1H419.1V376.8H422.5V379.5H424.5V382.9H425.9V386.2" fill="none" stroke="#72a63a" stroke-width="1.25"/>
<path d="M380.1 286.8H381.4V289.8H382.8V295.2H383.5V299.9H388.8V306.9H396.4V314.7H398.8V322.8H402.3V338.5H404.3V339.8H404.8V355.3H426.5V386.2" fill="none" stroke="#203a68" stroke-width="1.25"/>
<path d="M385 298.29999999999995v3.2M391.5 305.29999999999995v3.2M393.5 305.29999999999995v3.2M410.4 353.7v3.2" stroke="#203a68" stroke-width="0.8"/>
<path d="M380.1 286.8H380.6V301.9H381.2V310H382.6V318H383.3V322.1H383.9V339.8H386.8V340.5H387.5V347.9H388.8V348.6H389.5V355.3H391.5V356H392.2V365.4H392.8V376.1H405V386.6" fill="none" stroke="#a01232" stroke-width="1.25"/>
<text x="478.5" y="384.1" font-size="5.9" stroke-width="0.1"><tspan font-style="italic">P</tspan> &lt; 0.001</text>
<text x="0" y="0" font-size="9.4" text-anchor="middle" fill="#1a1a1a" transform="translate(446.1,414.1) scale(0.83,1)">Time (year)</text>
<text x="0" y="0" font-size="9.4" text-anchor="middle" fill="#1a1a1a" transform="translate(358.7,336.5) rotate(-90) scale(0.83,1)">Overall survival</text>
<text x="383" y="424.9" font-size="6.1" stroke-width="0.1">Age ≥ 70 years,</text>
<text x="383" y="433.29999999999995" font-size="6.1" stroke-width="0.1"><tspan font-style="italic">PRKCB</tspan> mutations,</text>
<text x="383" y="441.7" font-size="6.1" stroke-width="0.1">and Amp (9p24)</text>
<line x1="447.3" y1="422.6" x2="456.6" y2="422.6" stroke="#203a68" stroke-width="1.6"/>
<text x="459.6" y="424.8" font-size="6.1" stroke-width="0.1">0 factor (n = 23)</text>
<line x1="447.3" y1="431.1" x2="456.6" y2="431.1" stroke="#72a63a" stroke-width="1.6"/>
<text x="459.6" y="433.3" font-size="6.1" stroke-width="0.1">1 factor (n = 32)</text>
<line x1="447.3" y1="439.5" x2="456.6" y2="439.5" stroke="#a01232" stroke-width="1.6"/>
<text x="459.6" y="441.7" font-size="6.1" stroke-width="0.1">≥ 2 factors (n = 13)</text>
<text x="7.2" y="272.8" font-size="11.2" font-weight="bold">C</text>
<text x="7.2" y="469.0" font-size="11.2" font-weight="bold">D</text>
<rect x="44.1" y="479.7" width="129.8" height="107.69999999999999" fill="none" stroke="#111" stroke-width="1.3"/>
<line x1="41.300000000000004" y1="583.3" x2="44.1" y2="583.3" stroke="#111" stroke-width="1.0"/>
<text font-size="6.9" stroke-width="0.06" text-anchor="end" transform="translate(37.7,585.7) scale(0.9,1)">0</text>
<line x1="41.300000000000004" y1="563.48" x2="44.1" y2="563.48" stroke="#111" stroke-width="1.0"/>
<text font-size="6.9" stroke-width="0.06" text-anchor="end" transform="translate(37.7,565.9) scale(0.9,1)">0.2</text>
<line x1="41.300000000000004" y1="543.66" x2="44.1" y2="543.66" stroke="#111" stroke-width="1.0"/>
<text font-size="6.9" stroke-width="0.06" text-anchor="end" transform="translate(37.7,546.1) scale(0.9,1)">0.4</text>
<line x1="41.300000000000004" y1="523.8399999999999" x2="44.1" y2="523.8399999999999" stroke="#111" stroke-width="1.0"/>
<text font-size="6.9" stroke-width="0.06" text-anchor="end" transform="translate(37.7,526.2) scale(0.9,1)">0.6</text>
<line x1="41.300000000000004" y1="504.02" x2="44.1" y2="504.02" stroke="#111" stroke-width="1.0"/>
<text font-size="6.9" stroke-width="0.06" text-anchor="end" transform="translate(37.7,506.4) scale(0.9,1)">0.8</text>
<line x1="41.300000000000004" y1="484.2" x2="44.1" y2="484.2" stroke="#111" stroke-width="1.0"/>
<text font-size="6.9" stroke-width="0.06" text-anchor="end" transform="translate(37.7,486.6) scale(0.9,1)">1.0</text>
<line x1="44.1" y1="587.4" x2="44.1" y2="590.1999999999999" stroke="#111" stroke-width="1.0"/>
<text font-size="6.9" stroke-width="0.06" text-anchor="middle" transform="translate(44.1,599.4) scale(0.9,1)">0</text>
<line x1="69.98" y1="587.4" x2="69.98" y2="590.1999999999999" stroke="#111" stroke-width="1.0"/>
<text font-size="6.9" stroke-width="0.06" text-anchor="middle" transform="translate(70.0,599.4) scale(0.9,1)">1</text>
<line x1="95.86000000000001" y1="587.4" x2="95.86000000000001" y2="590.1999999999999" stroke="#111" stroke-width="1.0"/>
<text font-size="6.9" stroke-width="0.06" text-anchor="middle" transform="translate(95.9,599.4) scale(0.9,1)">2</text>
<line x1="121.74000000000001" y1="587.4" x2="121.74000000000001" y2="590.1999999999999" stroke="#111" stroke-width="1.0"/>
<text font-size="6.9" stroke-width="0.06" text-anchor="middle" transform="translate(121.7,599.4) scale(0.9,1)">3</text>
<line x1="147.62" y1="587.4" x2="147.62" y2="590.1999999999999" stroke="#111" stroke-width="1.0"/>
<text font-size="6.9" stroke-width="0.06" text-anchor="middle" transform="translate(147.6,599.4) scale(0.9,1)">4</text>
<line x1="173.5" y1="587.4" x2="173.5" y2="590.1999999999999" stroke="#111" stroke-width="1.0"/>
<text font-size="6.9" stroke-width="0.06" text-anchor="middle" transform="translate(173.5,599.4) scale(0.9,1)">5</text>
<text x="107.7" y="475.4" font-size="6.6" stroke-width="0.1" text-anchor="middle">Indolent subtypes</text>
<path d="M44.1 484.2H50V485.5H51V486.2H72.7V487H79.6V488H81.3V489.3H85.8V492.1H98V496H99.2V498.8H104.3V501.7H148.7V505.6H156.5V510.4H163.5V515.2H168V520H171.5V521H172.3V526.7H173.3V528" fill="none" stroke="#203a68" stroke-width="1.25"/>
<path d="M51 484.59999999999997v3.2M55.4 484.59999999999997v3.2M58 484.59999999999997v3.2M59.7 484.59999999999997v3.2M61.4 484.59999999999997v3.2M66.6 484.59999999999997v3.2M71 484.59999999999997v3.2M77 485.9v3.2M78.7 485.9v3.2M87.7 490.5v3.2M90.5 490.5v3.2M93 490.5v3.2M95.4 490.5v3.2M101.2 497.2v3.2M118.5 500.09999999999997v3.2M122 500.09999999999997v3.2M125 500.09999999999997v3.2M128 500.09999999999997v3.2M132 500.09999999999997v3.2M138.7 500.09999999999997v3.2M150.2 504.0v3.2M160.8 508.79999999999995v3.2M169.4 518.4v3.2" stroke="#203a68" stroke-width="0.8"/>
<path d="M44.1 484.2H47.8V488.7H52.3V494.8H54.5V500.9H62.5V506H64.5V512.1H69.5V518.2H72.3V524.8H75.3V532.1H84.8V538.3H107.6V553.7H142V568.5H143V583.3" fill="none" stroke="#a01232" stroke-width="1.25"/>
<path d="M91.2 536.6999999999999v3.2M95.2 536.6999999999999v3.2" stroke="#a01232" stroke-width="0.8"/>
<text x="49.4" y="580.9" font-size="5.9" stroke-width="0.1"><tspan font-style="italic">P</tspan> &lt; 0.001</text>
<text x="0" y="0" font-size="9.4" text-anchor="middle" fill="#1a1a1a" transform="translate(110.0,611.4) scale(0.83,1)">Time (year)</text>
<text x="0" y="0" font-size="9.4" text-anchor="middle" fill="#1a1a1a" transform="translate(24.2,533.5) rotate(-90) scale(0.83,1)">Overall survival</text>
<text x="56.9" y="621.5" font-size="6.1" stroke-width="0.1"><tspan font-style="italic">IRF4</tspan> mutations,</text>
<text x="56.9" y="630.0" font-size="6.1" stroke-width="0.1">Amp (9p24),</text>
<text x="56.9" y="638.5" font-size="6.1" stroke-width="0.1">and Del (9p21)</text>
<line x1="121.5" y1="627.8" x2="130.8" y2="627.8" stroke="#a01232" stroke-width="1.6"/>
<text x="133.8" y="630.0" font-size="6.1" stroke-width="0.1">(+) (n = 18)</text>
<line x1="121.5" y1="636.2" x2="130.8" y2="636.2" stroke="#203a68" stroke-width="1.6"/>
<text x="133.8" y="638.4000000000001" font-size="6.1" stroke-width="0.1">(–) (n = 56)</text>
<rect x="211.7" y="479.6" width="129.5" height="107.79999999999995" fill="none" stroke="#111" stroke-width="1.3"/>
<line x1="208.89999999999998" y1="583.3" x2="211.7" y2="583.3" stroke="#111" stroke-width="1.0"/>
<text font-size="6.9" stroke-width="0.06" text-anchor="end" transform="translate(205.3,585.7) scale(0.9,1)">0</text>
<line x1="208.89999999999998" y1="563.42" x2="211.7" y2="563.42" stroke="#111" stroke-width="1.0"/>
<text font-size="6.9" stroke-width="0.06" text-anchor="end" transform="translate(205.3,565.8) scale(0.9,1)">0.2</text>
<line x1="208.89999999999998" y1="543.54" x2="211.7" y2="543.54" stroke="#111" stroke-width="1.0"/>
<text font-size="6.9" stroke-width="0.06" text-anchor="end" transform="translate(205.3,545.9) scale(0.9,1)">0.4</text>
<line x1="208.89999999999998" y1="523.66" x2="211.7" y2="523.66" stroke="#111" stroke-width="1.0"/>
<text font-size="6.9" stroke-width="0.06" text-anchor="end" transform="translate(205.3,526.1) scale(0.9,1)">0.6</text>
<line x1="208.89999999999998" y1="503.78" x2="211.7" y2="503.78" stroke="#111" stroke-width="1.0"/>
<text font-size="6.9" stroke-width="0.06" text-anchor="end" transform="translate(205.3,506.2) scale(0.9,1)">0.8</text>
<line x1="208.89999999999998" y1="483.9" x2="211.7" y2="483.9" stroke="#111" stroke-width="1.0"/>
<text font-size="6.9" stroke-width="0.06" text-anchor="end" transform="translate(205.3,486.3) scale(0.9,1)">1.0</text>
<line x1="211.7" y1="587.4" x2="211.7" y2="590.1999999999999" stroke="#111" stroke-width="1.0"/>
<text font-size="6.9" stroke-width="0.06" text-anchor="middle" transform="translate(211.7,599.4) scale(0.9,1)">0</text>
<line x1="237.6" y1="587.4" x2="237.6" y2="590.1999999999999" stroke="#111" stroke-width="1.0"/>
<text font-size="6.9" stroke-width="0.06" text-anchor="middle" transform="translate(237.6,599.4) scale(0.9,1)">1</text>
<line x1="263.5" y1="587.4" x2="263.5" y2="590.1999999999999" stroke="#111" stroke-width="1.0"/>
<text font-size="6.9" stroke-width="0.06" text-anchor="middle" transform="translate(263.5,599.4) scale(0.9,1)">2</text>
<line x1="289.4" y1="587.4" x2="289.4" y2="590.1999999999999" stroke="#111" stroke-width="1.0"/>
<text font-size="6.9" stroke-width="0.06" text-anchor="middle" transform="translate(289.4,599.4) scale(0.9,1)">3</text>
<line x1="315.29999999999995" y1="587.4" x2="315.29999999999995" y2="590.1999999999999" stroke="#111" stroke-width="1.0"/>
<text font-size="6.9" stroke-width="0.06" text-anchor="middle" transform="translate(315.3,599.4) scale(0.9,1)">4</text>
<line x1="341.2" y1="587.4" x2="341.2" y2="590.1999999999999" stroke="#111" stroke-width="1.0"/>
<text font-size="6.9" stroke-width="0.06" text-anchor="middle" transform="translate(341.2,599.4) scale(0.9,1)">5</text>
<text x="276.7" y="475.4" font-size="6.6" stroke-width="0.1" text-anchor="middle">Unfavorable chronic subtype</text>
<path d="M211.7 483.9H219V487H240.6V491.2H249V495.8H265.2V509.6H272V516.2H316.3V523.5H331.6V531.9H335V540.4H338.8V544.2H340.5V548.8H341.2" fill="none" stroke="#203a68" stroke-width="1.25"/>
<path d="M223.5 485.4v3.2M228 485.4v3.2M229.5 485.4v3.2M235.8 485.4v3.2M245 489.59999999999997v3.2M255 494.2v3.2M257.3 494.2v3.2M258.8 494.2v3.2M260.3 494.2v3.2M293.8 514.6v3.2M318 521.9v3.2" stroke="#203a68" stroke-width="0.8"/>
<path d="M211.7 483.9H216V491.2H220.6V499.6H221.6V506.5H230.6V514.2H233.3V521.2H238.3V528.8H241V537.3H243.3V544.3H253.4V553H309.3V567.4H310.3V583.3" fill="none" stroke="#a01232" stroke-width="1.25"/>
<path d="M259.1 551.4v3.2M273.5 551.4v3.2" stroke="#a01232" stroke-width="0.8"/>
<text x="217.3" y="581.0" font-size="5.9" stroke-width="0.1"><tspan font-style="italic">P</tspan> &lt; 0.001</text>
<text x="0" y="0" font-size="9.4" text-anchor="middle" fill="#1a1a1a" transform="translate(277.6,611.4) scale(0.83,1)">Time (year)</text>
<text x="0" y="0" font-size="9.4" text-anchor="middle" fill="#1a1a1a" transform="translate(190.3,533.5) rotate(-90) scale(0.83,1)">Overall survival</text>
<text x="225.4" y="621.5" font-size="6.1" stroke-width="0.1"><tspan font-style="italic">IRF4</tspan> mutations,</text>
<text x="225.4" y="630.0" font-size="6.1" stroke-width="0.1">Amp (9p24),</text>
<text x="225.4" y="638.5" font-size="6.1" stroke-width="0.1">and Del (9p21)</text>
<line x1="289.4" y1="627.8" x2="298.7" y2="627.8" stroke="#a01232" stroke-width="1.6"/>
<text x="301.7" y="630.0" font-size="6.1" stroke-width="0.1">(+) (n = 13)</text>
<line x1="289.4" y1="636.2" x2="298.7" y2="636.2" stroke="#203a68" stroke-width="1.6"/>
<text x="301.7" y="638.4000000000001" font-size="6.1" stroke-width="0.1">(–) (n = 27)</text>
<rect x="379.5" y="479.5" width="129.39999999999998" height="107.89999999999998" fill="none" stroke="#111" stroke-width="1.3"/>
<line x1="376.7" y1="583.3" x2="379.5" y2="583.3" stroke="#111" stroke-width="1.0"/>
<text font-size="6.9" stroke-width="0.06" text-anchor="end" transform="translate(373.1,585.7) scale(0.9,1)">0</text>
<line x1="376.7" y1="563.4399999999999" x2="379.5" y2="563.4399999999999" stroke="#111" stroke-width="1.0"/>
<text font-size="6.9" stroke-width="0.06" text-anchor="end" transform="translate(373.1,565.8) scale(0.9,1)">0.2</text>
<line x1="376.7" y1="543.5799999999999" x2="379.5" y2="543.5799999999999" stroke="#111" stroke-width="1.0"/>
<text font-size="6.9" stroke-width="0.06" text-anchor="end" transform="translate(373.1,546.0) scale(0.9,1)">0.4</text>
<line x1="376.7" y1="523.72" x2="379.5" y2="523.72" stroke="#111" stroke-width="1.0"/>
<text font-size="6.9" stroke-width="0.06" text-anchor="end" transform="translate(373.1,526.1) scale(0.9,1)">0.6</text>
<line x1="376.7" y1="503.86" x2="379.5" y2="503.86" stroke="#111" stroke-width="1.0"/>
<text font-size="6.9" stroke-width="0.06" text-anchor="end" transform="translate(373.1,506.3) scale(0.9,1)">0.8</text>
<line x1="376.7" y1="484.0" x2="379.5" y2="484.0" stroke="#111" stroke-width="1.0"/>
<text font-size="6.9" stroke-width="0.06" text-anchor="end" transform="translate(373.1,486.4) scale(0.9,1)">1.0</text>
<line x1="379.5" y1="587.4" x2="379.5" y2="590.1999999999999" stroke="#111" stroke-width="1.0"/>
<text font-size="6.9" stroke-width="0.06" text-anchor="middle" transform="translate(379.5,599.4) scale(0.9,1)">0</text>
<line x1="405.38" y1="587.4" x2="405.38" y2="590.1999999999999" stroke="#111" stroke-width="1.0"/>
<text font-size="6.9" stroke-width="0.06" text-anchor="middle" transform="translate(405.4,599.4) scale(0.9,1)">1</text>
<line x1="431.26" y1="587.4" x2="431.26" y2="590.1999999999999" stroke="#111" stroke-width="1.0"/>
<text font-size="6.9" stroke-width="0.06" text-anchor="middle" transform="translate(431.3,599.4) scale(0.9,1)">2</text>
<line x1="457.14" y1="587.4" x2="457.14" y2="590.1999999999999" stroke="#111" stroke-width="1.0"/>
<text font-size="6.9" stroke-width="0.06" text-anchor="middle" transform="translate(457.1,599.4) scale(0.9,1)">3</text>
<line x1="483.02" y1="587.4" x2="483.02" y2="590.1999999999999" stroke="#111" stroke-width="1.0"/>
<text font-size="6.9" stroke-width="0.06" text-anchor="middle" transform="translate(483.0,599.4) scale(0.9,1)">4</text>
<line x1="508.9" y1="587.4" x2="508.9" y2="590.1999999999999" stroke="#111" stroke-width="1.0"/>
<text font-size="6.9" stroke-width="0.06" text-anchor="middle" transform="translate(508.9,599.4) scale(0.9,1)">5</text>
<text x="442.1" y="475.4" font-size="6.6" stroke-width="0.1" text-anchor="middle">Favorable chronic subtype</text>
<path d="M379.5 484H508.9" fill="none" stroke="#203a68" stroke-width="1.25"/>
<path d="M456.9 482.4v3.2M464.6 482.4v3.2M474.6 482.4v3.2" stroke="#203a68" stroke-width="0.8"/>
<path d="M379.5 484H443.2V583.3" fill="none" stroke="#a01232" stroke-width="1.25"/>
<path d="M381.5 482.4v3.2M391.5 482.4v3.2M393.1 482.4v3.2M395.4 482.4v3.2M396.9 482.4v3.2M400.8 482.4v3.2M402.3 482.4v3.2M408.5 482.4v3.2M426.2 482.4v3.2M428.2 482.4v3.2M430 482.4v3.2M434.6 482.4v3.2" stroke="#a01232" stroke-width="0.8"/>
<text x="385" y="580.9" font-size="5.9" stroke-width="0.1"><tspan font-style="italic">P</tspan> = 0.014</text>
<text x="0" y="0" font-size="9.4" text-anchor="middle" fill="#1a1a1a" transform="translate(445.4,611.4) scale(0.83,1)">Time (year)</text>
<text x="0" y="0" font-size="9.4" text-anchor="middle" fill="#1a1a1a" transform="translate(358.3,533.5) rotate(-90) scale(0.83,1)">Overall survival</text>
<text x="393.6" y="621.5" font-size="6.1" stroke-width="0.1"><tspan font-style="italic">IRF4</tspan> mutations,</text>
<text x="393.6" y="630.0" font-size="6.1" stroke-width="0.1">Amp (9p24),</text>
<text x="393.6" y="638.5" font-size="6.1" stroke-width="0.1">and Del (9p21)</text>
<line x1="457.7" y1="627.8" x2="467.0" y2="627.8" stroke="#a01232" stroke-width="1.6"/>
<text x="470.0" y="630.0" font-size="6.1" stroke-width="0.1">(+) (n = 5)</text>
<line x1="457.7" y1="636.2" x2="467.0" y2="636.2" stroke="#203a68" stroke-width="1.6"/>
<text x="470.0" y="638.4000000000001" font-size="6.1" stroke-width="0.1">(–) (n = 14)</text>
</svg></div></body></html>
